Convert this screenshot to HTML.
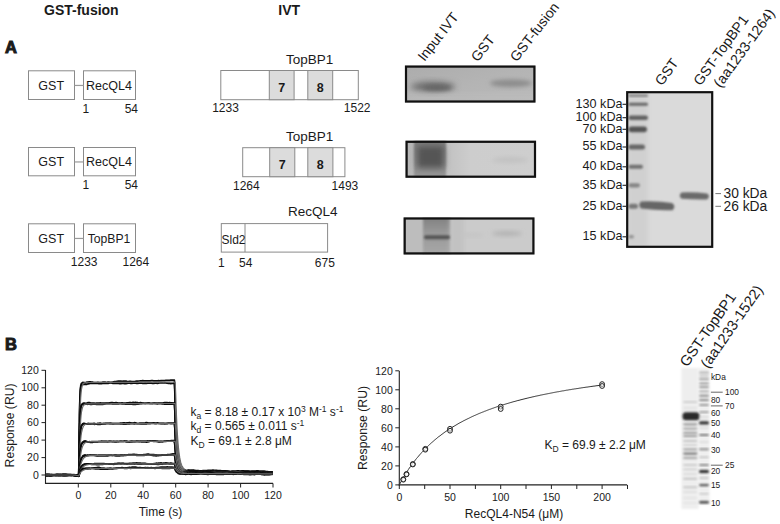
<!DOCTYPE html>
<html><head><meta charset="utf-8"><style>
html,body{margin:0;padding:0;background:#fff;}
svg{display:block;}
text{font-family:"Liberation Sans", sans-serif;fill:#1a1a1a;}
</style></head><body>
<svg width="780" height="524" viewBox="0 0 780 524">
<defs>
<filter id="b1" x="-50%" y="-50%" width="200%" height="200%"><feGaussianBlur stdDeviation="1"/></filter>
<filter id="b2" x="-50%" y="-50%" width="200%" height="200%"><feGaussianBlur stdDeviation="2"/></filter>
<filter id="b3" x="-50%" y="-50%" width="200%" height="200%"><feGaussianBlur stdDeviation="3"/></filter>
<filter id="b4" x="-50%" y="-50%" width="200%" height="200%"><feGaussianBlur stdDeviation="4"/></filter>
<filter id="b05" x="-50%" y="-50%" width="200%" height="200%"><feGaussianBlur stdDeviation="0.6"/></filter>
<filter id="b08" x="-50%" y="-50%" width="200%" height="200%"><feGaussianBlur stdDeviation="0.9"/></filter>
</defs>
<rect width="780" height="524" fill="#fff"/>

<text x="5" y="52.8" font-size="16.5" font-weight="bold" stroke="#1a1a1a" stroke-width="1">A</text>
<text x="44" y="14.8" font-size="14" font-weight="bold">GST-fusion</text>
<text x="278.3" y="14.8" font-size="14" font-weight="bold">IVT</text>
<rect x="28.5" y="70.8" width="46" height="28.700000000000003" fill="#fff" stroke="#8a8a8a" stroke-width="1"/>
<rect x="83.5" y="70.8" width="52" height="28.700000000000003" fill="#fff" stroke="#8a8a8a" stroke-width="1"/>
<line x1="74.5" y1="85.45" x2="83.5" y2="85.45" stroke="#9a9a9a" stroke-width="1.2"/>
<text x="51.2" y="89.9" font-size="12.5" text-anchor="middle">GST</text>
<text x="109" y="89.9" font-size="12.5" text-anchor="middle">RecQL4</text>
<text x="82.5" y="113" font-size="12">1</text>
<text x="124.7" y="113" font-size="12">54</text>
<rect x="28.5" y="147.5" width="46" height="28.30000000000001" fill="#fff" stroke="#8a8a8a" stroke-width="1"/>
<rect x="83.5" y="147.5" width="52" height="28.30000000000001" fill="#fff" stroke="#8a8a8a" stroke-width="1"/>
<line x1="74.5" y1="161.95000000000002" x2="83.5" y2="161.95000000000002" stroke="#9a9a9a" stroke-width="1.2"/>
<text x="51.2" y="166.20000000000002" font-size="12.5" text-anchor="middle">GST</text>
<text x="109" y="166.20000000000002" font-size="12.5" text-anchor="middle">RecQL4</text>
<text x="82.5" y="189.3" font-size="12">1</text>
<text x="124.7" y="189.3" font-size="12">54</text>
<rect x="28.5" y="223.8" width="46" height="28.69999999999999" fill="#fff" stroke="#8a8a8a" stroke-width="1"/>
<rect x="83.5" y="223.8" width="52" height="28.69999999999999" fill="#fff" stroke="#8a8a8a" stroke-width="1"/>
<line x1="74.5" y1="238.45000000000002" x2="83.5" y2="238.45000000000002" stroke="#9a9a9a" stroke-width="1.2"/>
<text x="51.2" y="242.9" font-size="12.5" text-anchor="middle">GST</text>
<text x="109" y="242.9" font-size="12.2" text-anchor="middle">TopBP1</text>
<text x="70.8" y="266" font-size="12">1233</text>
<text x="122.5" y="266" font-size="12">1264</text>
<rect x="220.8" y="70.5" width="137.5" height="29.200000000000003" fill="#fff" stroke="#8a8a8a" stroke-width="1"/>
<rect x="269.3" y="70.5" width="24.80000000000001" height="29.200000000000003" fill="#dcdcdc" stroke="#8a8a8a" stroke-width="1"/>
<text x="281.70000000000005" y="91.60000000000001" font-size="12.5" font-weight="bold" text-anchor="middle">7</text>
<rect x="307.8" y="70.5" width="24.899999999999977" height="29.200000000000003" fill="#dcdcdc" stroke="#8a8a8a" stroke-width="1"/>
<text x="320.25" y="91.60000000000001" font-size="12.5" font-weight="bold" text-anchor="middle">8</text>
<text x="309.6" y="63.5" font-size="13.5" text-anchor="middle">TopBP1</text>
<text x="212.2" y="112.2" font-size="12">1233</text>
<text x="343.8" y="112.2" font-size="12">1522</text>
<rect x="242.7" y="147.7" width="102.19999999999999" height="29.0" fill="#fff" stroke="#8a8a8a" stroke-width="1"/>
<rect x="269.7" y="147.7" width="25.100000000000023" height="29.0" fill="#dcdcdc" stroke="#8a8a8a" stroke-width="1"/>
<text x="282.25" y="168.6" font-size="12.5" font-weight="bold" text-anchor="middle">7</text>
<rect x="307.8" y="147.7" width="25.099999999999966" height="29.0" fill="#dcdcdc" stroke="#8a8a8a" stroke-width="1"/>
<text x="320.35" y="168.6" font-size="12.5" font-weight="bold" text-anchor="middle">8</text>
<text x="309.6" y="140.5" font-size="13.5" text-anchor="middle">TopBP1</text>
<text x="233" y="189.7" font-size="12">1264</text>
<text x="331.6" y="189.7" font-size="12">1493</text>
<rect x="221.3" y="223.6" width="106.3" height="28.5" fill="#fff" stroke="#8a8a8a" stroke-width="1"/>
<line x1="245" y1="223.6" x2="245" y2="252.1" stroke="#8a8a8a" stroke-width="1"/>
<text x="221.5" y="243.8" font-size="12">Sld2</text>
<text x="312.8" y="216.2" font-size="13.5" text-anchor="middle">RecQL4</text>
<text x="218" y="266.5" font-size="12">1</text>
<text x="239" y="266.5" font-size="12">54</text>
<text x="314.8" y="266.5" font-size="12">675</text>
<clipPath id="cg1"><rect x="405" y="65.6" width="130.4" height="36.9"/></clipPath>
<clipPath id="cg2"><rect x="405.6" y="140.8" width="130.4" height="36.9"/></clipPath>
<clipPath id="cg3"><rect x="403.7" y="217.5" width="130.7" height="36.9"/></clipPath>
<linearGradient id="lg1" x1="0" y1="0" x2="1" y2="1"><stop offset="0" stop-color="#acacac"/><stop offset="0.5" stop-color="#b4b4b4"/><stop offset="1" stop-color="#bababa"/></linearGradient>
<g>
<rect x="405" y="65.6" width="130.39999999999998" height="36.900000000000006" fill="url(#lg1)"/>
<g clip-path="url(#cg1)"><ellipse cx="433" cy="86.8" rx="22" ry="5" fill="#6c6c6c" filter="url(#b3)"/><ellipse cx="437" cy="88" rx="14" ry="3" fill="#666" filter="url(#b2)"/><ellipse cx="511" cy="83.2" rx="21" ry="3.8" fill="#8c8c8c" filter="url(#b2)"/><rect x="405" y="92" width="131" height="11" fill="#c0c0c0" opacity="0.35" filter="url(#b2)"/></g>
<rect x="406" y="66.6" width="128.39999999999998" height="34.900000000000006" fill="none" stroke="#111" stroke-width="2.2"/>
</g>
<linearGradient id="lg2" x1="0" y1="0" x2="0" y2="1"><stop offset="0" stop-color="#7a7a7a"/><stop offset="1" stop-color="#9a9a9a"/></linearGradient>
<linearGradient id="lg2b" x1="405" y1="0" x2="536" y2="0" gradientUnits="userSpaceOnUse"><stop offset="0" stop-color="#b6b6b6"/><stop offset="0.36" stop-color="#c4c4c4"/><stop offset="0.5" stop-color="#cdcdcd"/><stop offset="1" stop-color="#cecece"/></linearGradient>
<g>
<rect x="405.6" y="140.8" width="130.39999999999998" height="36.89999999999998" fill="#cdcdcd"/>
<g clip-path="url(#cg2)"><rect x="405" y="140" width="131" height="38" fill="url(#lg2b)"/><rect x="414" y="136" width="32" height="48" fill="url(#lg2)" filter="url(#b1)"/><rect x="417" y="146" width="27" height="22" fill="#555" filter="url(#b3)"/><ellipse cx="510" cy="160" rx="18" ry="3" fill="#c2c2c2" filter="url(#b2)"/></g>
<rect x="406.6" y="141.8" width="128.39999999999998" height="34.89999999999998" fill="none" stroke="#111" stroke-width="2.2"/>
</g>
<linearGradient id="lg3" x1="0" y1="0" x2="0" y2="1"><stop offset="0" stop-color="#7c7c7c"/><stop offset="0.45" stop-color="#9a9a9a"/><stop offset="1" stop-color="#aaaaaa"/></linearGradient>
<g>
<rect x="403.7" y="217.5" width="130.7" height="36.900000000000006" fill="#cbcbcb"/>
<g clip-path="url(#cg3)"><rect x="403" y="215" width="21" height="42" fill="#bdbdbd"/><rect x="423" y="214" width="28" height="44" fill="url(#lg3)" filter="url(#b1)"/><rect x="450" y="214" width="14" height="44" fill="#c2c2c2" filter="url(#b2)"/><rect x="424" y="235.3" width="26" height="4" rx="2" fill="#555" filter="url(#b1)"/><ellipse cx="507" cy="233.6" rx="15" ry="2.5" fill="#b2b2b2" filter="url(#b2)"/><ellipse cx="472" cy="235" rx="12" ry="2" fill="#c4c4c4" filter="url(#b2)"/></g>
<rect x="404.7" y="218.5" width="128.7" height="34.900000000000006" fill="none" stroke="#111" stroke-width="2.2"/>
</g>
<text x="0" y="0" font-size="14" transform="translate(424.4,62.0) rotate(-52)" >Input IVT</text>
<text x="0" y="0" font-size="14" transform="translate(477.8,62.5) rotate(-52)" >GST</text>
<text x="0" y="0" font-size="14" transform="translate(516.8,62.5) rotate(-52)" >GST-fusion</text>
<clipPath id="cgc"><rect x="627" y="92" width="85" height="155"/></clipPath>
<rect x="627" y="92" width="85.5" height="155.5" fill="#dadada"/>
<g clip-path="url(#cgc)">
<rect x="628" y="92" width="20" height="155" fill="#d0d0d0" filter="url(#b2)"/>
<rect x="628.5" y="94.60000000000001" width="19.5" height="2.2" rx="1.1" fill="#7e7e7e" filter="url(#b08)"/>
<rect x="628.5" y="102.8" width="19.5" height="3" rx="1.5" fill="#666" filter="url(#b08)"/>
<rect x="628.5" y="115.45" width="19.5" height="4.5" rx="2.25" fill="#606060" filter="url(#b08)"/>
<rect x="628.5" y="126.4" width="18.5" height="5.8" rx="2.9" fill="#555" filter="url(#b08)"/>
<rect x="628.5" y="144.5" width="16.5" height="5" rx="2.5" fill="#666" filter="url(#b08)"/>
<rect x="628.5" y="164.8" width="14.5" height="4" rx="2.0" fill="#707070" filter="url(#b08)"/>
<rect x="628.5" y="183.20000000000002" width="11.5" height="4.2" rx="2.1" fill="#858585" filter="url(#b08)"/>
<rect x="628.5" y="203.8" width="9.5" height="5" rx="2.5" fill="#777" filter="url(#b08)"/>
<rect x="628.5" y="235.05" width="5.5" height="3.5" rx="1.75" fill="#959595" filter="url(#b08)"/>
<path d="M641,201.5 Q658,200.8 672,203 Q676.5,206 672.5,210.2 Q658,210.8 641,208.5 Q637.5,205 641,201.5 Z" fill="#666" filter="url(#b08)"/>
<path d="M681.5,192.4 Q696,192 707,193.5 Q711,196 707,199.4 Q696,199.8 681.5,198.8 Q678,195.5 681.5,192.4 Z" fill="#6a6a6a" filter="url(#b08)"/>
</g>
<rect x="627.2" y="92.2" width="85" height="154.6" fill="none" stroke="#111" stroke-width="2.2"/>
<text x="622.5" y="107.6" font-size="12.6" text-anchor="end">130 kDa</text>
<line x1="622.5" y1="104.3" x2="626" y2="104.3" stroke="#222" stroke-width="1.1"/>
<text x="622.5" y="121.0" font-size="12.6" text-anchor="end">100 kDa</text>
<line x1="622.5" y1="117.7" x2="626" y2="117.7" stroke="#222" stroke-width="1.1"/>
<text x="622.5" y="132.60000000000002" font-size="12.6" text-anchor="end">70 kDa</text>
<line x1="622.5" y1="129.3" x2="626" y2="129.3" stroke="#222" stroke-width="1.1"/>
<text x="622.5" y="150.3" font-size="12.6" text-anchor="end">55 kDa</text>
<line x1="622.5" y1="147" x2="626" y2="147" stroke="#222" stroke-width="1.1"/>
<text x="622.5" y="170.10000000000002" font-size="12.6" text-anchor="end">40 kDa</text>
<line x1="622.5" y1="166.8" x2="626" y2="166.8" stroke="#222" stroke-width="1.1"/>
<text x="622.5" y="188.60000000000002" font-size="12.6" text-anchor="end">35 kDa</text>
<line x1="622.5" y1="185.3" x2="626" y2="185.3" stroke="#222" stroke-width="1.1"/>
<text x="622.5" y="209.60000000000002" font-size="12.6" text-anchor="end">25 kDa</text>
<line x1="622.5" y1="206.3" x2="626" y2="206.3" stroke="#222" stroke-width="1.1"/>
<text x="622.5" y="240.10000000000002" font-size="12.6" text-anchor="end">15 kDa</text>
<line x1="622.5" y1="236.8" x2="626" y2="236.8" stroke="#222" stroke-width="1.1"/>
<line x1="715.4" y1="193.6" x2="721" y2="193.6" stroke="#777" stroke-width="1"/>
<line x1="715.4" y1="206.3" x2="721" y2="206.3" stroke="#777" stroke-width="1"/>
<text x="723.5" y="198.4" font-size="13.8">30 kDa</text>
<text x="723.5" y="211.1" font-size="13.8">26 kDa</text>
<text x="0" y="0" font-size="14.2" transform="translate(662.0,86.6) rotate(-54)" >GST</text>
<text x="0" y="0" font-size="14.2" transform="translate(700.4,86.6) rotate(-54)" >GST-TopBP1</text>
<text x="0" y="0" font-size="14.2" transform="translate(720.6,88.5) rotate(-54)" >(aa1233-1264)</text>
<text x="5" y="349.6" font-size="16.5" font-weight="bold" stroke="#1a1a1a" stroke-width="1">B</text>
<line x1="45.5" y1="370" x2="45.5" y2="483.9" stroke="#222" stroke-width="1.1"/>
<line x1="45" y1="483.4" x2="273" y2="483.4" stroke="#222" stroke-width="1.1"/>
<line x1="41.5" y1="475.0" x2="45.5" y2="475.0" stroke="#222" stroke-width="1"/>
<text x="38.8" y="478.7" font-size="10.5" text-anchor="end">0</text>
<line x1="41.5" y1="457.6" x2="45.5" y2="457.6" stroke="#222" stroke-width="1"/>
<text x="38.8" y="461.2" font-size="10.5" text-anchor="end">20</text>
<line x1="41.5" y1="440.1" x2="45.5" y2="440.1" stroke="#222" stroke-width="1"/>
<text x="38.8" y="443.8" font-size="10.5" text-anchor="end">40</text>
<line x1="41.5" y1="422.6" x2="45.5" y2="422.6" stroke="#222" stroke-width="1"/>
<text x="38.8" y="426.3" font-size="10.5" text-anchor="end">60</text>
<line x1="41.5" y1="405.2" x2="45.5" y2="405.2" stroke="#222" stroke-width="1"/>
<text x="38.8" y="408.9" font-size="10.5" text-anchor="end">80</text>
<line x1="41.5" y1="387.8" x2="45.5" y2="387.8" stroke="#222" stroke-width="1"/>
<text x="38.8" y="391.4" font-size="10.5" text-anchor="end">100</text>
<line x1="41.5" y1="370.3" x2="45.5" y2="370.3" stroke="#222" stroke-width="1"/>
<text x="38.8" y="374.0" font-size="10.5" text-anchor="end">120</text>
<line x1="78.3" y1="483.4" x2="78.3" y2="487.5" stroke="#222" stroke-width="1"/>
<text x="78.3" y="499.4" font-size="10.5" text-anchor="middle">0</text>
<line x1="110.8" y1="483.4" x2="110.8" y2="487.5" stroke="#222" stroke-width="1"/>
<text x="110.8" y="499.4" font-size="10.5" text-anchor="middle">20</text>
<line x1="143.2" y1="483.4" x2="143.2" y2="487.5" stroke="#222" stroke-width="1"/>
<text x="143.2" y="499.4" font-size="10.5" text-anchor="middle">40</text>
<line x1="175.7" y1="483.4" x2="175.7" y2="487.5" stroke="#222" stroke-width="1"/>
<text x="175.7" y="499.4" font-size="10.5" text-anchor="middle">60</text>
<line x1="208.1" y1="483.4" x2="208.1" y2="487.5" stroke="#222" stroke-width="1"/>
<text x="208.1" y="499.4" font-size="10.5" text-anchor="middle">80</text>
<line x1="240.6" y1="483.4" x2="240.6" y2="487.5" stroke="#222" stroke-width="1"/>
<text x="240.6" y="499.4" font-size="10.5" text-anchor="middle">100</text>
<line x1="273.0" y1="483.4" x2="273.0" y2="487.5" stroke="#222" stroke-width="1"/>
<text x="273.0" y="499.4" font-size="10.5" text-anchor="middle">120</text>
<text x="160.5" y="516.3" font-size="12" text-anchor="middle">Time (s)</text>
<text x="0" y="0" font-size="12.2" text-anchor="middle" transform="translate(13.6,425.4) rotate(-90)">Response (RU)</text>
<polyline points="45.8,475.0 47.1,475.0 48.3,474.9 49.5,474.8 50.7,474.8 51.9,474.6 53.2,474.8 54.4,474.8 55.6,474.8 56.8,474.9 58.0,475.1 59.2,475.3 60.5,475.5 61.7,475.3 62.9,475.4 64.1,475.5 65.3,475.5 66.5,475.3 67.8,475.1 69.0,475.0 70.2,475.0 71.4,474.8 72.6,474.8 73.8,474.7 75.1,474.9 76.3,475.2 77.5,475.4 77.9,475.4 78.3,475.6 78.7,475.6 79.1,451.7 79.5,415.3 79.9,398.1 80.3,389.8 80.7,386.0 81.1,384.2 81.5,383.3 82.0,383.0 82.4,382.7 82.8,382.4 83.2,382.7 83.6,382.6 84.0,382.7 84.4,382.8 84.8,382.5 85.2,382.5 85.6,382.9 86.0,382.5 86.4,382.4 86.8,382.3 87.2,382.0 87.6,382.0 88.0,382.0 89.3,381.9 90.5,381.9 91.7,382.1 92.9,382.2 94.1,382.5 95.3,382.6 96.6,382.6 97.8,382.3 99.0,382.6 100.2,382.7 101.4,382.5 102.6,382.2 103.9,382.0 105.1,382.1 106.3,382.5 107.5,382.2 108.7,382.1 109.9,382.3 111.2,382.3 112.4,382.2 113.6,381.9 114.8,381.6 116.0,381.6 117.2,381.3 118.5,381.0 119.7,381.1 120.9,381.1 122.1,381.3 123.3,381.1 124.5,381.0 125.8,381.1 127.0,381.4 128.2,381.5 129.4,381.4 130.6,381.4 131.8,381.6 133.1,381.6 134.3,381.7 135.5,381.3 136.7,381.1 137.9,381.2 139.1,381.0 140.4,380.8 141.6,380.9 142.8,380.6 144.0,380.8 145.2,380.9 146.4,380.8 147.7,380.8 148.9,380.9 150.1,380.8 151.3,380.7 152.5,380.7 153.7,380.8 155.0,380.9 156.2,380.8 157.4,380.8 158.6,380.7 159.8,380.9 161.0,380.7 162.3,380.7 163.5,380.7 164.7,380.6 165.9,380.4 167.1,380.4 168.3,380.3 169.6,380.4 170.8,380.2 172.0,380.0 173.2,380.1 173.6,380.1 174.0,380.2 174.4,380.2 174.8,388.7 175.2,406.6 175.7,420.5 176.1,431.3 176.5,439.9 176.9,446.6 177.3,451.8 177.7,455.8 178.1,459.0 178.5,461.6 178.9,463.4 179.3,465.1 179.7,466.3 180.1,467.2 180.5,468.0 180.9,468.4 181.3,469.0 181.7,469.4 182.1,469.4 182.5,469.5 183.0,469.4 183.4,469.6 183.8,469.8 184.2,469.8 184.6,470.0 185.0,470.0 185.4,470.3 185.8,470.7 186.2,470.7 186.6,470.7 187.0,470.8 187.4,470.6 187.8,470.6 188.2,470.1 188.6,470.2 189.8,470.4 191.1,470.3 192.3,470.3 193.5,470.3 194.7,470.7 195.9,470.8 197.1,470.8 198.4,470.7 199.6,470.8 200.8,470.9 202.0,470.9 203.2,470.6 204.4,470.7 205.7,470.5 206.9,470.6 208.1,470.4 209.3,470.3 210.5,470.3 211.8,470.4 213.0,470.1 214.2,470.3 215.4,470.3 216.6,470.3 217.8,470.5 219.1,470.5 220.3,470.5 221.5,470.8 222.7,470.8 223.9,471.1 225.1,471.0 226.4,471.2 227.6,471.4 228.8,471.6 230.0,471.5 231.2,471.3 232.4,471.0 233.7,471.2 234.9,471.1 236.1,471.1 237.3,470.9 238.5,470.9 239.7,471.1 241.0,471.1 242.2,470.9 243.4,470.9 244.6,471.0 245.8,471.0 247.0,471.2 248.3,471.2 249.5,471.3 250.7,471.4 251.9,471.2 253.1,471.1 254.3,471.2 255.6,471.0 256.8,470.8 258.0,470.9 259.2,471.0 260.4,471.1 261.6,471.0 262.9,471.1 264.1,471.2 265.3,471.4 266.5,471.6 267.7,471.6 268.9,472.0 270.2,471.9 271.4,471.9 272.6,472.1" fill="none" stroke="#0c0c0c" stroke-width="1.7" stroke-linejoin="round"/>
<polyline points="45.8,474.5 47.1,474.3 48.3,474.5 49.5,474.4 50.7,474.7 51.9,474.8 53.2,475.2 54.4,475.2 55.6,475.6 56.8,475.5 58.0,475.6 59.2,475.4 60.5,475.3 61.7,475.1 62.9,475.0 64.1,474.9 65.3,474.8 66.5,474.7 67.8,474.7 69.0,474.8 70.2,474.8 71.4,474.9 72.6,475.1 73.8,475.3 75.1,475.5 76.3,475.5 77.5,475.5 77.9,475.4 78.3,475.6 78.7,475.6 79.1,451.9 79.5,416.2 79.9,399.2 80.3,391.2 80.7,387.6 81.1,385.9 81.5,385.1 82.0,384.6 82.4,384.4 82.8,384.4 83.2,384.6 83.6,384.4 84.0,384.4 84.4,384.4 84.8,384.3 85.2,384.2 85.6,384.5 86.0,384.3 86.4,384.3 86.8,384.3 87.2,384.0 87.6,384.0 88.0,383.9 89.3,383.6 90.5,383.3 91.7,383.3 92.9,383.2 94.1,383.5 95.3,383.5 96.6,383.4 97.8,383.4 99.0,383.6 100.2,383.5 101.4,383.7 102.6,383.4 103.9,383.2 105.1,383.5 106.3,383.4 107.5,383.1 108.7,383.3 109.9,383.0 111.2,383.0 112.4,383.3 113.6,383.2 114.8,383.3 116.0,383.4 117.2,383.4 118.5,383.5 119.7,383.7 120.9,383.6 122.1,383.5 123.3,383.5 124.5,383.7 125.8,383.7 127.0,383.4 128.2,383.2 129.4,383.0 130.6,383.4 131.8,383.4 133.1,383.2 134.3,382.9 135.5,383.1 136.7,383.3 137.9,383.3 139.1,383.2 140.4,383.1 141.6,383.2 142.8,383.4 144.0,383.3 145.2,383.1 146.4,383.3 147.7,383.1 148.9,383.2 150.1,383.2 151.3,383.2 152.5,383.4 153.7,383.4 155.0,383.1 156.2,383.1 157.4,383.3 158.6,383.1 159.8,383.0 161.0,382.7 162.3,382.8 163.5,383.0 164.7,382.8 165.9,382.9 167.1,383.2 168.3,383.3 169.6,383.4 170.8,383.6 172.0,383.5 173.2,383.5 173.6,383.2 174.0,383.0 174.4,383.0 174.8,391.5 175.2,408.9 175.7,422.7 176.1,433.5 176.5,441.9 176.9,448.5 177.3,453.6 177.7,457.5 178.1,460.7 178.5,463.0 178.9,464.8 179.3,466.3 179.7,467.4 180.1,468.2 180.5,468.8 180.9,469.4 181.3,469.8 181.7,470.2 182.1,470.5 182.5,470.8 183.0,471.2 183.4,471.2 183.8,471.4 184.2,471.9 184.6,471.9 185.0,471.6 185.4,471.7 185.8,471.8 186.2,472.0 186.6,471.8 187.0,471.5 187.4,471.3 187.8,471.4 188.2,471.2 188.6,471.1 189.8,471.0 191.1,470.9 192.3,470.8 193.5,470.7 194.7,471.0 195.9,471.2 197.1,471.1 198.4,471.2 199.6,471.3 200.8,471.3 202.0,471.4 203.2,471.3 204.4,471.0 205.7,470.9 206.9,470.9 208.1,471.1 209.3,470.9 210.5,471.0 211.8,470.9 213.0,471.1 214.2,471.3 215.4,471.4 216.6,471.4 217.8,471.6 219.1,471.5 220.3,471.5 221.5,471.6 222.7,471.6 223.9,471.4 225.1,471.4 226.4,471.4 227.6,471.6 228.8,471.6 230.0,471.8 231.2,472.0 232.4,472.0 233.7,472.2 234.9,472.3 236.1,472.5 237.3,472.7 238.5,472.5 239.7,472.4 241.0,472.4 242.2,472.3 243.4,472.4 244.6,472.0 245.8,471.9 247.0,471.8 248.3,472.0 249.5,472.0 250.7,472.2 251.9,472.0 253.1,472.1 254.3,472.4 255.6,472.5 256.8,472.4 258.0,472.6 259.2,472.6 260.4,472.8 261.6,473.0 262.9,473.0 264.1,473.0 265.3,473.0 266.5,472.8 267.7,472.5 268.9,472.2 270.2,472.0 271.4,472.0 272.6,472.1" fill="none" stroke="#0c0c0c" stroke-width="1.7" stroke-linejoin="round"/>
<polyline points="45.8,475.0 47.1,475.0 48.3,475.0 49.5,475.0 50.7,475.0 51.9,475.0 53.2,475.0 54.4,475.0 55.6,475.0 56.8,475.0 58.0,475.0 59.2,475.0 60.5,475.0 61.7,475.0 62.9,475.0 64.1,475.0 65.3,475.0 66.5,475.0 67.8,475.0 69.0,475.0 70.2,475.0 71.4,475.0 72.6,475.0 73.8,475.1 75.1,475.2 76.3,475.4 77.5,475.5 77.9,475.6 78.3,475.6 78.7,475.7 79.1,461.4 79.5,434.7 79.9,417.0 80.3,405.3 80.7,397.6 81.1,392.5 81.5,389.1 82.0,386.9 82.4,385.4 82.8,384.4 83.2,383.8 83.6,383.3 84.0,383.0 84.4,382.9 84.8,382.7 85.2,382.6 85.6,382.6 86.0,382.6 86.4,382.5 86.8,382.5 87.2,382.5 87.6,382.5 88.0,382.5 89.3,382.5 90.5,382.5 91.7,382.5 92.9,382.5 94.1,382.4 95.3,382.4 96.6,382.4 97.8,382.4 99.0,382.4 100.2,382.4 101.4,382.4 102.6,382.4 103.9,382.4 105.1,382.4 106.3,382.4 107.5,382.4 108.7,382.4 109.9,382.4 111.2,382.4 112.4,382.4 113.6,382.4 114.8,382.4 116.0,382.3 117.2,382.3 118.5,382.3 119.7,382.3 120.9,382.3 122.1,382.3 123.3,382.3 124.5,382.3 125.8,382.3 127.0,382.3 128.2,382.3 129.4,382.3 130.6,382.3 131.8,382.3 133.1,382.3 134.3,382.3 135.5,382.3 136.7,382.3 137.9,382.3 139.1,382.2 140.4,382.2 141.6,382.2 142.8,382.2 144.0,382.2 145.2,382.2 146.4,382.2 147.7,382.2 148.9,382.2 150.1,382.2 151.3,382.2 152.5,382.2 153.7,382.2 155.0,382.2 156.2,382.2 157.4,382.2 158.6,382.2 159.8,382.2 161.0,382.1 162.3,382.1 163.5,382.1 164.7,382.1 165.9,382.1 167.1,382.1 168.3,382.1 169.6,382.1 170.8,382.1 172.0,382.1 173.2,382.1 173.6,382.1 174.0,382.1 174.4,382.1 174.8,382.1 175.2,382.1 175.7,393.7 176.1,406.0 176.5,416.4 176.9,425.2 177.3,432.5 177.7,438.6 178.1,443.8 178.5,448.1 178.9,451.8 179.3,454.8 179.7,457.4 180.1,459.5 180.5,461.4 180.9,462.9 181.3,464.2 181.7,465.2 182.1,466.1 182.5,466.9 183.0,467.5 183.4,468.1 183.8,468.5 184.2,468.9 184.6,469.2 185.0,469.5 185.4,469.7 185.8,469.9 186.2,470.1 186.6,470.2 187.0,470.3 187.4,470.4 187.8,470.5 188.2,470.6 188.6,470.6 189.8,470.7 191.1,470.8 192.3,470.9 193.5,470.9 194.7,471.0 195.9,471.0 197.1,471.0 198.4,471.0 199.6,471.0 200.8,471.1 202.0,471.1 203.2,471.1 204.4,471.1 205.7,471.1 206.9,471.1 208.1,471.2 209.3,471.2 210.5,471.2 211.8,471.2 213.0,471.2 214.2,471.2 215.4,471.3 216.6,471.3 217.8,471.3 219.1,471.3 220.3,471.3 221.5,471.3 222.7,471.3 223.9,471.4 225.1,471.4 226.4,471.4 227.6,471.4 228.8,471.4 230.0,471.4 231.2,471.5 232.4,471.5 233.7,471.5 234.9,471.5 236.1,471.5 237.3,471.5 238.5,471.6 239.7,471.6 241.0,471.6 242.2,471.6 243.4,471.6 244.6,471.6 245.8,471.7 247.0,471.7 248.3,471.7 249.5,471.7 250.7,471.7 251.9,471.7 253.1,471.7 254.3,471.8 255.6,471.8 256.8,471.8 258.0,471.8 259.2,471.8 260.4,471.8 261.6,471.9 262.9,471.9 264.1,471.9 265.3,471.9 266.5,471.9 267.7,471.9 268.9,472.0 270.2,472.0 271.4,472.0 272.6,472.0" fill="none" stroke="#6a6a6a" stroke-width="1.2" stroke-linejoin="round"/>
<polyline points="45.8,475.5 47.1,475.4 48.3,475.3 49.5,475.3 50.7,475.3 51.9,475.5 53.2,475.2 54.4,475.0 55.6,475.0 56.8,475.1 58.0,475.1 59.2,475.4 60.5,475.4 61.7,475.5 62.9,475.7 64.1,475.7 65.3,475.6 66.5,475.7 67.8,475.4 69.0,475.3 70.2,475.3 71.4,475.1 72.6,475.1 73.8,475.3 75.1,475.3 76.3,475.4 77.5,475.4 77.9,475.5 78.3,475.7 78.7,475.9 79.1,459.9 79.5,433.8 79.9,419.9 80.3,412.5 80.7,408.6 81.1,406.4 81.5,405.0 82.0,404.4 82.4,403.7 82.8,403.4 83.2,403.2 83.6,403.1 84.0,402.9 84.4,403.3 84.8,403.3 85.2,403.5 85.6,403.4 86.0,403.3 86.4,403.2 86.8,403.2 87.2,402.9 87.6,402.7 88.0,402.6 89.3,402.7 90.5,402.9 91.7,403.0 92.9,403.1 94.1,403.2 95.3,403.3 96.6,403.1 97.8,403.1 99.0,403.2 100.2,402.9 101.4,403.0 102.6,403.0 103.9,403.0 105.1,403.2 106.3,403.0 107.5,403.1 108.7,403.0 109.9,402.8 111.2,402.7 112.4,402.7 113.6,402.8 114.8,402.8 116.0,402.7 117.2,402.9 118.5,403.1 119.7,403.2 120.9,403.1 122.1,402.9 123.3,403.0 124.5,403.0 125.8,403.0 127.0,402.9 128.2,402.8 129.4,402.7 130.6,402.7 131.8,402.8 133.1,402.4 134.3,402.5 135.5,402.4 136.7,402.5 137.9,402.7 139.1,403.0 140.4,402.7 141.6,402.8 142.8,403.0 144.0,403.2 145.2,403.3 146.4,403.2 147.7,403.0 148.9,403.2 150.1,403.4 151.3,403.3 152.5,403.2 153.7,403.0 155.0,403.3 156.2,403.2 157.4,403.2 158.6,403.1 159.8,403.1 161.0,403.1 162.3,403.1 163.5,402.9 164.7,402.7 165.9,402.7 167.1,402.7 168.3,402.8 169.6,402.7 170.8,402.8 172.0,402.8 173.2,403.0 173.6,403.0 174.0,402.9 174.4,402.6 174.8,409.1 175.2,422.5 175.7,432.8 176.1,441.3 176.5,447.8 176.9,452.8 177.3,457.0 177.7,459.9 178.1,462.3 178.5,464.4 178.9,465.6 179.3,466.6 179.7,467.7 180.1,468.5 180.5,469.1 180.9,469.6 181.3,470.1 181.7,470.2 182.1,470.6 182.5,470.5 183.0,470.4 183.4,470.5 183.8,470.4 184.2,470.3 184.6,470.6 185.0,470.6 185.4,470.6 185.8,470.8 186.2,470.9 186.6,470.9 187.0,471.0 187.4,470.7 187.8,470.5 188.2,470.7 188.6,470.6 189.8,470.6 191.1,470.6 192.3,470.4 193.5,470.4 194.7,470.7 195.9,470.7 197.1,470.7 198.4,470.9 199.6,471.0 200.8,470.9 202.0,471.2 203.2,471.1 204.4,471.1 205.7,471.1 206.9,470.8 208.1,471.2 209.3,471.3 210.5,471.0 211.8,471.1 213.0,471.3 214.2,471.5 215.4,471.7 216.6,471.5 217.8,471.3 219.1,471.4 220.3,471.4 221.5,471.0 222.7,470.9 223.9,470.9 225.1,470.9 226.4,471.0 227.6,471.2 228.8,471.4 230.0,471.6 231.2,471.5 232.4,471.6 233.7,471.7 234.9,471.9 236.1,471.7 237.3,471.6 238.5,471.7 239.7,471.8 241.0,471.5 242.2,471.3 243.4,471.3 244.6,471.3 245.8,471.4 247.0,471.4 248.3,471.3 249.5,471.3 250.7,471.5 251.9,471.5 253.1,471.5 254.3,471.6 255.6,471.7 256.8,471.8 258.0,472.0 259.2,472.1 260.4,472.3 261.6,472.4 262.9,472.2 264.1,472.3 265.3,472.1 266.5,472.2 267.7,472.1 268.9,471.9 270.2,472.1 271.4,472.2 272.6,472.2" fill="none" stroke="#0c0c0c" stroke-width="1.7" stroke-linejoin="round"/>
<polyline points="45.8,474.8 47.1,474.6 48.3,474.7 49.5,474.7 50.7,474.6 51.9,474.6 53.2,474.9 54.4,475.0 55.6,475.2 56.8,475.1 58.0,475.0 59.2,474.7 60.5,474.8 61.7,474.7 62.9,474.3 64.1,474.3 65.3,474.2 66.5,474.5 67.8,474.8 69.0,475.2 70.2,475.1 71.4,475.3 72.6,475.2 73.8,475.2 75.1,475.2 76.3,475.4 77.5,475.2 77.9,475.4 78.3,475.5 78.7,475.6 79.1,460.1 79.5,434.2 79.9,420.4 80.3,412.8 80.7,408.7 81.1,406.5 81.5,405.4 82.0,404.8 82.4,404.6 82.8,404.3 83.2,404.2 83.6,404.3 84.0,404.2 84.4,404.2 84.8,404.3 85.2,404.0 85.6,404.1 86.0,404.1 86.4,403.9 86.8,404.1 87.2,404.3 87.6,404.0 88.0,404.2 89.3,404.2 90.5,404.3 91.7,404.3 92.9,404.2 94.1,404.1 95.3,404.2 96.6,404.4 97.8,404.4 99.0,404.4 100.2,404.2 101.4,404.3 102.6,404.3 103.9,404.1 105.1,403.9 106.3,403.7 107.5,403.6 108.7,403.7 109.9,403.6 111.2,403.6 112.4,403.8 113.6,403.7 114.8,403.8 116.0,403.8 117.2,403.6 118.5,403.8 119.7,403.7 120.9,403.7 122.1,403.8 123.3,403.8 124.5,403.8 125.8,404.1 127.0,404.0 128.2,404.1 129.4,404.0 130.6,404.1 131.8,404.2 133.1,404.3 134.3,404.3 135.5,404.3 136.7,404.1 137.9,404.2 139.1,404.0 140.4,403.7 141.6,403.6 142.8,403.5 144.0,403.5 145.2,403.4 146.4,403.5 147.7,403.3 148.9,403.2 150.1,403.4 151.3,403.5 152.5,403.6 153.7,403.5 155.0,403.2 156.2,403.6 157.4,403.9 158.6,403.7 159.8,403.5 161.0,403.7 162.3,403.9 163.5,404.0 164.7,404.2 165.9,404.1 167.1,404.1 168.3,404.2 169.6,404.1 170.8,404.1 172.0,404.1 173.2,403.9 173.6,404.0 174.0,403.9 174.4,403.9 174.8,410.1 175.2,423.5 175.7,434.1 176.1,442.4 176.5,449.1 176.9,453.9 177.3,457.9 177.7,461.1 178.1,463.6 178.5,465.5 178.9,466.9 179.3,467.7 179.7,469.0 180.1,469.6 180.5,470.0 180.9,470.7 181.3,470.7 181.7,471.0 182.1,471.2 182.5,471.1 183.0,471.1 183.4,471.3 183.8,471.1 184.2,471.3 184.6,471.3 185.0,471.5 185.4,471.5 185.8,471.5 186.2,471.5 186.6,471.6 187.0,471.7 187.4,471.9 187.8,471.8 188.2,471.7 188.6,471.8 189.8,471.8 191.1,471.8 192.3,471.6 193.5,471.5 194.7,471.6 195.9,471.7 197.1,471.7 198.4,471.8 199.6,471.9 200.8,472.1 202.0,472.0 203.2,471.9 204.4,472.1 205.7,472.1 206.9,472.1 208.1,472.1 209.3,472.0 210.5,472.1 211.8,472.2 213.0,472.0 214.2,471.9 215.4,472.0 216.6,471.9 217.8,472.1 219.1,471.8 220.3,471.8 221.5,471.8 222.7,472.0 223.9,471.9 225.1,471.7 226.4,471.9 227.6,472.2 228.8,472.1 230.0,472.3 231.2,472.3 232.4,472.1 233.7,472.4 234.9,472.3 236.1,472.2 237.3,472.4 238.5,472.3 239.7,472.3 241.0,472.6 242.2,472.4 243.4,472.2 244.6,472.5 245.8,472.5 247.0,472.5 248.3,472.4 249.5,472.5 250.7,472.6 251.9,472.5 253.1,472.3 254.3,472.4 255.6,472.6 256.8,472.6 258.0,472.4 259.2,472.4 260.4,472.8 261.6,472.8 262.9,472.5 264.1,472.2 265.3,472.4 266.5,472.6 267.7,472.7 268.9,472.3 270.2,472.4 271.4,472.3 272.6,472.7" fill="none" stroke="#0c0c0c" stroke-width="1.7" stroke-linejoin="round"/>
<polyline points="45.8,475.0 47.1,475.0 48.3,475.0 49.5,475.0 50.7,475.0 51.9,475.0 53.2,475.0 54.4,475.0 55.6,475.0 56.8,475.0 58.0,475.0 59.2,475.0 60.5,475.0 61.7,475.0 62.9,475.0 64.1,475.0 65.3,475.0 66.5,475.0 67.8,475.0 69.0,475.0 70.2,475.0 71.4,475.0 72.6,475.0 73.8,475.1 75.1,475.2 76.3,475.4 77.5,475.5 77.9,475.6 78.3,475.6 78.7,475.7 79.1,466.4 79.5,448.1 79.9,435.2 80.3,426.0 80.7,419.6 81.1,415.0 81.5,411.8 82.0,409.5 82.4,407.8 82.8,406.7 83.2,405.9 83.6,405.3 84.0,404.9 84.4,404.6 84.8,404.4 85.2,404.2 85.6,404.1 86.0,404.0 86.4,404.0 86.8,403.9 87.2,403.9 87.6,403.9 88.0,403.9 89.3,403.9 90.5,403.8 91.7,403.8 92.9,403.8 94.1,403.8 95.3,403.8 96.6,403.8 97.8,403.8 99.0,403.8 100.2,403.8 101.4,403.8 102.6,403.8 103.9,403.8 105.1,403.8 106.3,403.8 107.5,403.8 108.7,403.8 109.9,403.8 111.2,403.7 112.4,403.7 113.6,403.7 114.8,403.7 116.0,403.7 117.2,403.7 118.5,403.7 119.7,403.7 120.9,403.7 122.1,403.7 123.3,403.7 124.5,403.7 125.8,403.7 127.0,403.7 128.2,403.7 129.4,403.7 130.6,403.7 131.8,403.7 133.1,403.6 134.3,403.6 135.5,403.6 136.7,403.6 137.9,403.6 139.1,403.6 140.4,403.6 141.6,403.6 142.8,403.6 144.0,403.6 145.2,403.6 146.4,403.6 147.7,403.6 148.9,403.6 150.1,403.6 151.3,403.6 152.5,403.6 153.7,403.6 155.0,403.6 156.2,403.5 157.4,403.5 158.6,403.5 159.8,403.5 161.0,403.5 162.3,403.5 163.5,403.5 164.7,403.5 165.9,403.5 167.1,403.5 168.3,403.5 169.6,403.5 170.8,403.5 172.0,403.5 173.2,403.5 173.6,403.5 174.0,403.5 174.4,403.5 174.8,403.5 175.2,403.5 175.7,412.3 176.1,421.8 176.5,429.7 176.9,436.4 177.3,442.0 177.7,446.7 178.1,450.6 178.5,453.9 178.9,456.7 179.3,459.0 179.7,461.0 180.1,462.6 180.5,464.0 180.9,465.2 181.3,466.2 181.7,467.0 182.1,467.7 182.5,468.2 183.0,468.7 183.4,469.1 183.8,469.5 184.2,469.8 184.6,470.0 185.0,470.2 185.4,470.4 185.8,470.5 186.2,470.7 186.6,470.8 187.0,470.9 187.4,470.9 187.8,471.0 188.2,471.1 188.6,471.1 189.8,471.2 191.1,471.3 192.3,471.3 193.5,471.3 194.7,471.4 195.9,471.4 197.1,471.4 198.4,471.4 199.6,471.4 200.8,471.5 202.0,471.5 203.2,471.5 204.4,471.5 205.7,471.5 206.9,471.5 208.1,471.5 209.3,471.6 210.5,471.6 211.8,471.6 213.0,471.6 214.2,471.6 215.4,471.6 216.6,471.6 217.8,471.7 219.1,471.7 220.3,471.7 221.5,471.7 222.7,471.7 223.9,471.7 225.1,471.8 226.4,471.8 227.6,471.8 228.8,471.8 230.0,471.8 231.2,471.8 232.4,471.8 233.7,471.9 234.9,471.9 236.1,471.9 237.3,471.9 238.5,471.9 239.7,471.9 241.0,471.9 242.2,472.0 243.4,472.0 244.6,472.0 245.8,472.0 247.0,472.0 248.3,472.0 249.5,472.0 250.7,472.1 251.9,472.1 253.1,472.1 254.3,472.1 255.6,472.1 256.8,472.1 258.0,472.1 259.2,472.2 260.4,472.2 261.6,472.2 262.9,472.2 264.1,472.2 265.3,472.2 266.5,472.2 267.7,472.3 268.9,472.3 270.2,472.3 271.4,472.3 272.6,472.3" fill="none" stroke="#6a6a6a" stroke-width="1.2" stroke-linejoin="round"/>
<polyline points="45.8,475.1 47.1,475.2 48.3,475.1 49.5,475.0 50.7,475.1 51.9,474.9 53.2,475.0 54.4,474.9 55.6,474.9 56.8,475.2 58.0,475.1 59.2,475.0 60.5,475.0 61.7,475.1 62.9,475.1 64.1,475.1 65.3,475.0 66.5,475.2 67.8,475.3 69.0,475.4 70.2,475.5 71.4,475.4 72.6,475.5 73.8,475.4 75.1,475.6 76.3,475.6 77.5,475.6 77.9,475.5 78.3,475.7 78.7,475.6 79.1,466.1 79.5,449.4 79.9,439.3 80.3,433.3 80.7,429.6 81.1,427.2 81.5,425.8 82.0,424.9 82.4,424.1 82.8,423.7 83.2,423.5 83.6,423.3 84.0,423.3 84.4,423.4 84.8,423.5 85.2,423.8 85.6,423.8 86.0,423.8 86.4,423.9 86.8,423.9 87.2,423.8 87.6,423.8 88.0,423.3 89.3,423.6 90.5,423.6 91.7,423.7 92.9,423.6 94.1,423.3 95.3,423.6 96.6,423.8 97.8,423.4 99.0,423.4 100.2,423.1 101.4,423.5 102.6,423.7 103.9,423.4 105.1,423.4 106.3,423.5 107.5,423.4 108.7,423.5 109.9,423.2 111.2,423.3 112.4,423.6 113.6,423.6 114.8,423.5 116.0,423.5 117.2,423.5 118.5,423.5 119.7,423.4 120.9,423.1 122.1,423.0 123.3,422.8 124.5,422.9 125.8,423.1 127.0,422.9 128.2,422.8 129.4,422.7 130.6,422.8 131.8,423.1 133.1,423.0 134.3,422.7 135.5,422.9 136.7,423.3 137.9,423.5 139.1,423.3 140.4,423.0 141.6,423.0 142.8,423.1 144.0,423.0 145.2,422.9 146.4,422.6 147.7,422.9 148.9,423.2 150.1,423.0 151.3,423.0 152.5,423.0 153.7,422.9 155.0,423.0 156.2,423.0 157.4,422.9 158.6,423.3 159.8,423.5 161.0,423.6 162.3,423.7 163.5,423.6 164.7,423.7 165.9,423.5 167.1,423.3 168.3,423.1 169.6,423.0 170.8,423.2 172.0,423.2 173.2,423.1 173.6,423.1 174.0,423.2 174.4,423.1 174.8,427.5 175.2,436.9 175.7,444.3 176.1,450.1 176.5,454.7 176.9,458.1 177.3,460.9 177.7,463.2 178.1,465.0 178.5,466.5 178.9,467.4 179.3,468.0 179.7,468.8 180.1,469.1 180.5,469.3 180.9,469.5 181.3,469.5 181.7,470.0 182.1,470.4 182.5,470.4 183.0,470.4 183.4,470.6 183.8,470.9 184.2,471.1 184.6,471.1 185.0,471.1 185.4,471.0 185.8,471.3 186.2,471.3 186.6,471.0 187.0,470.8 187.4,470.7 187.8,470.7 188.2,470.8 188.6,470.6 189.8,470.5 191.1,470.6 192.3,470.8 193.5,470.8 194.7,470.7 195.9,470.8 197.1,470.8 198.4,471.1 199.6,471.2 200.8,471.2 202.0,471.4 203.2,471.4 204.4,471.4 205.7,471.3 206.9,471.1 208.1,471.0 209.3,471.3 210.5,471.0 211.8,471.0 213.0,471.1 214.2,471.4 215.4,471.5 216.6,471.7 217.8,471.5 219.1,471.7 220.3,471.7 221.5,471.7 222.7,471.7 223.9,471.6 225.1,471.5 226.4,471.8 227.6,471.8 228.8,471.9 230.0,472.1 231.2,472.1 232.4,472.2 233.7,472.3 234.9,472.1 236.1,471.9 237.3,471.8 238.5,471.7 239.7,471.7 241.0,471.7 242.2,471.6 243.4,471.5 244.6,471.7 245.8,472.1 247.0,472.1 248.3,472.2 249.5,472.1 250.7,472.2 251.9,472.3 253.1,472.1 254.3,471.9 255.6,472.1 256.8,472.1 258.0,472.5 259.2,472.7 260.4,472.6 261.6,473.0 262.9,473.1 264.1,473.1 265.3,472.9 266.5,472.8 267.7,472.6 268.9,472.6 270.2,472.4 271.4,472.0 272.6,471.7" fill="none" stroke="#0c0c0c" stroke-width="1.7" stroke-linejoin="round"/>
<polyline points="45.8,474.5 47.1,474.6 48.3,474.6 49.5,475.0 50.7,475.2 51.9,475.4 53.2,475.3 54.4,475.2 55.6,475.4 56.8,475.2 58.0,474.9 59.2,475.1 60.5,474.7 61.7,474.7 62.9,474.6 64.1,474.6 65.3,474.7 66.5,474.7 67.8,474.5 69.0,474.7 70.2,474.6 71.4,475.0 72.6,475.0 73.8,475.3 75.1,475.6 76.3,475.8 77.5,476.0 77.9,476.1 78.3,476.0 78.7,476.0 79.1,466.5 79.5,449.6 79.9,439.4 80.3,433.4 80.7,429.7 81.1,427.3 81.5,426.0 82.0,425.0 82.4,424.5 82.8,424.3 83.2,424.0 83.6,424.0 84.0,424.0 84.4,423.9 84.8,424.1 85.2,424.1 85.6,424.2 86.0,424.1 86.4,424.1 86.8,424.2 87.2,424.2 87.6,424.1 88.0,424.1 89.3,424.0 90.5,424.1 91.7,424.0 92.9,424.0 94.1,424.3 95.3,424.1 96.6,424.1 97.8,424.3 99.0,424.3 100.2,424.3 101.4,424.2 102.6,424.0 103.9,423.9 105.1,423.9 106.3,423.4 107.5,423.5 108.7,423.4 109.9,423.6 111.2,423.6 112.4,423.6 113.6,423.5 114.8,423.6 116.0,423.5 117.2,423.6 118.5,423.7 119.7,423.7 120.9,423.9 122.1,424.0 123.3,424.1 124.5,424.2 125.8,424.2 127.0,423.9 128.2,423.9 129.4,423.8 130.6,423.6 131.8,423.5 133.1,423.6 134.3,423.8 135.5,423.6 136.7,423.6 137.9,423.5 139.1,423.7 140.4,423.9 141.6,423.8 142.8,423.8 144.0,424.0 145.2,423.9 146.4,423.9 147.7,423.5 148.9,423.6 150.1,423.7 151.3,423.5 152.5,423.3 153.7,423.4 155.0,423.6 156.2,423.7 157.4,423.5 158.6,423.3 159.8,423.4 161.0,423.4 162.3,423.4 163.5,423.3 164.7,423.6 165.9,423.6 167.1,423.6 168.3,423.5 169.6,423.5 170.8,423.6 172.0,423.6 173.2,423.4 173.6,423.3 174.0,423.2 174.4,423.2 174.8,427.7 175.2,437.2 175.7,444.7 176.1,450.5 176.5,455.0 176.9,458.7 177.3,461.5 177.7,464.0 178.1,465.9 178.5,467.1 178.9,468.1 179.3,469.1 179.7,469.7 180.1,470.2 180.5,470.6 180.9,470.8 181.3,471.3 181.7,471.6 182.1,471.9 182.5,472.1 183.0,472.1 183.4,471.9 183.8,472.2 184.2,472.1 184.6,471.9 185.0,471.9 185.4,472.0 185.8,472.2 186.2,472.4 186.6,472.3 187.0,472.4 187.4,472.8 187.8,472.7 188.2,472.7 188.6,472.5 189.8,472.6 191.1,472.7 192.3,472.8 193.5,472.6 194.7,472.5 195.9,472.3 197.1,472.3 198.4,472.1 199.6,472.2 200.8,472.2 202.0,472.2 203.2,472.5 204.4,472.6 205.7,472.7 206.9,472.8 208.1,472.8 209.3,473.0 210.5,472.9 211.8,472.6 213.0,472.7 214.2,472.7 215.4,472.9 216.6,472.8 217.8,472.4 219.1,472.5 220.3,472.6 221.5,472.4 222.7,472.2 223.9,471.9 225.1,471.9 226.4,471.9 227.6,472.1 228.8,472.3 230.0,472.6 231.2,472.8 232.4,472.7 233.7,472.9 234.9,473.3 236.1,473.0 237.3,472.9 238.5,472.6 239.7,472.7 241.0,472.7 242.2,472.3 243.4,471.9 244.6,472.1 245.8,472.1 247.0,472.3 248.3,472.0 249.5,472.0 250.7,472.3 251.9,472.7 253.1,472.6 254.3,472.7 255.6,472.6 256.8,472.7 258.0,472.6 259.2,472.5 260.4,472.4 261.6,472.5 262.9,472.2 264.1,472.4 265.3,472.4 266.5,472.4 267.7,472.4 268.9,472.3 270.2,472.5 271.4,472.9 272.6,472.8" fill="none" stroke="#0c0c0c" stroke-width="1.7" stroke-linejoin="round"/>
<polyline points="45.8,475.0 47.1,475.0 48.3,475.0 49.5,475.0 50.7,475.0 51.9,475.0 53.2,475.0 54.4,475.0 55.6,475.0 56.8,475.0 58.0,475.0 59.2,475.0 60.5,475.0 61.7,475.0 62.9,475.0 64.1,475.0 65.3,475.0 66.5,475.0 67.8,475.0 69.0,475.0 70.2,475.0 71.4,475.0 72.6,475.0 73.8,475.1 75.1,475.2 76.3,475.4 77.5,475.5 77.9,475.6 78.3,475.6 78.7,475.7 79.1,470.2 79.5,458.9 79.9,450.4 80.3,444.0 80.7,439.1 81.1,435.4 81.5,432.6 82.0,430.5 82.4,428.9 82.8,427.7 83.2,426.7 83.6,426.0 84.0,425.5 84.4,425.1 84.8,424.8 85.2,424.5 85.6,424.4 86.0,424.2 86.4,424.1 86.8,424.0 87.2,424.0 87.6,423.9 88.0,423.9 89.3,423.8 90.5,423.8 91.7,423.8 92.9,423.8 94.1,423.8 95.3,423.8 96.6,423.7 97.8,423.7 99.0,423.7 100.2,423.7 101.4,423.7 102.6,423.7 103.9,423.7 105.1,423.7 106.3,423.7 107.5,423.7 108.7,423.7 109.9,423.7 111.2,423.7 112.4,423.7 113.6,423.7 114.8,423.7 116.0,423.7 117.2,423.7 118.5,423.7 119.7,423.6 120.9,423.6 122.1,423.6 123.3,423.6 124.5,423.6 125.8,423.6 127.0,423.6 128.2,423.6 129.4,423.6 130.6,423.6 131.8,423.6 133.1,423.6 134.3,423.6 135.5,423.6 136.7,423.6 137.9,423.6 139.1,423.6 140.4,423.6 141.6,423.5 142.8,423.5 144.0,423.5 145.2,423.5 146.4,423.5 147.7,423.5 148.9,423.5 150.1,423.5 151.3,423.5 152.5,423.5 153.7,423.5 155.0,423.5 156.2,423.5 157.4,423.5 158.6,423.5 159.8,423.5 161.0,423.5 162.3,423.5 163.5,423.4 164.7,423.4 165.9,423.4 167.1,423.4 168.3,423.4 169.6,423.4 170.8,423.4 172.0,423.4 173.2,423.4 173.6,423.4 174.0,423.4 174.4,423.4 174.8,423.4 175.2,423.4 175.7,429.7 176.1,436.4 176.5,442.0 176.9,446.8 177.3,450.8 177.7,454.1 178.1,456.9 178.5,459.3 178.9,461.2 179.3,462.9 179.7,464.3 180.1,465.5 180.5,466.4 180.9,467.3 181.3,468.0 181.7,468.5 182.1,469.0 182.5,469.5 183.0,469.8 183.4,470.1 183.8,470.3 184.2,470.5 184.6,470.7 185.0,470.9 185.4,471.0 185.8,471.1 186.2,471.2 186.6,471.3 187.0,471.3 187.4,471.4 187.8,471.4 188.2,471.5 188.6,471.5 189.8,471.6 191.1,471.6 192.3,471.7 193.5,471.7 194.7,471.7 195.9,471.7 197.1,471.7 198.4,471.8 199.6,471.8 200.8,471.8 202.0,471.8 203.2,471.8 204.4,471.8 205.7,471.8 206.9,471.8 208.1,471.9 209.3,471.9 210.5,471.9 211.8,471.9 213.0,471.9 214.2,471.9 215.4,471.9 216.6,472.0 217.8,472.0 219.1,472.0 220.3,472.0 221.5,472.0 222.7,472.0 223.9,472.0 225.1,472.0 226.4,472.1 227.6,472.1 228.8,472.1 230.0,472.1 231.2,472.1 232.4,472.1 233.7,472.1 234.9,472.2 236.1,472.2 237.3,472.2 238.5,472.2 239.7,472.2 241.0,472.2 242.2,472.2 243.4,472.2 244.6,472.3 245.8,472.3 247.0,472.3 248.3,472.3 249.5,472.3 250.7,472.3 251.9,472.3 253.1,472.3 254.3,472.4 255.6,472.4 256.8,472.4 258.0,472.4 259.2,472.4 260.4,472.4 261.6,472.4 262.9,472.5 264.1,472.5 265.3,472.5 266.5,472.5 267.7,472.5 268.9,472.5 270.2,472.5 271.4,472.5 272.6,472.6" fill="none" stroke="#6a6a6a" stroke-width="1.2" stroke-linejoin="round"/>
<polyline points="45.8,474.8 47.1,474.9 48.3,475.2 49.5,475.1 50.7,475.2 51.9,475.4 53.2,475.1 54.4,475.1 55.6,475.2 56.8,475.1 58.0,475.1 59.2,475.1 60.5,474.9 61.7,474.9 62.9,474.9 64.1,474.7 65.3,474.8 66.5,474.6 67.8,474.8 69.0,474.9 70.2,475.0 71.4,475.1 72.6,474.9 73.8,475.0 75.1,475.1 76.3,475.1 77.5,475.1 77.9,475.2 78.3,475.0 78.7,475.1 79.1,469.9 79.5,460.4 79.9,453.8 80.3,449.6 80.7,446.7 81.1,445.0 81.5,443.8 82.0,442.9 82.4,442.3 82.8,442.0 83.2,441.8 83.6,441.5 84.0,441.1 84.4,441.2 84.8,441.1 85.2,440.8 85.6,441.2 86.0,441.2 86.4,441.4 86.8,441.8 87.2,441.6 87.6,441.9 88.0,442.1 89.3,441.7 90.5,441.8 91.7,441.7 92.9,441.7 94.1,441.6 95.3,441.5 96.6,441.6 97.8,441.7 99.0,441.5 100.2,441.5 101.4,441.2 102.6,441.4 103.9,441.3 105.1,441.4 106.3,441.4 107.5,441.6 108.7,441.6 109.9,441.4 111.2,441.3 112.4,441.5 113.6,441.3 114.8,441.4 116.0,441.4 117.2,441.4 118.5,441.5 119.7,441.5 120.9,441.3 122.1,441.5 123.3,441.5 124.5,441.1 125.8,441.0 127.0,441.2 128.2,441.5 129.4,441.6 130.6,441.2 131.8,441.2 133.1,441.4 134.3,441.3 135.5,441.3 136.7,441.0 137.9,441.0 139.1,441.4 140.4,441.1 141.6,441.2 142.8,441.1 144.0,441.2 145.2,441.2 146.4,441.0 147.7,440.8 148.9,441.1 150.1,440.9 151.3,441.0 152.5,440.9 153.7,440.8 155.0,440.9 156.2,441.1 157.4,441.0 158.6,441.3 159.8,441.4 161.0,441.4 162.3,441.6 163.5,441.5 164.7,441.4 165.9,441.4 167.1,440.9 168.3,441.0 169.6,441.1 170.8,440.7 172.0,440.6 173.2,440.6 173.6,440.6 174.0,440.7 174.4,440.5 174.8,443.2 175.2,449.5 175.7,454.2 176.1,458.1 176.5,461.0 176.9,463.5 177.3,465.2 177.7,466.7 178.1,467.9 178.5,469.0 178.9,469.6 179.3,470.2 179.7,470.4 180.1,470.9 180.5,471.2 180.9,471.3 181.3,471.4 181.7,471.5 182.1,471.4 182.5,471.4 183.0,471.4 183.4,471.6 183.8,471.6 184.2,471.7 184.6,471.6 185.0,471.8 185.4,471.9 185.8,472.0 186.2,471.8 186.6,471.7 187.0,471.6 187.4,471.6 187.8,471.6 188.2,471.8 188.6,471.6 189.8,471.5 191.1,471.6 192.3,471.5 193.5,471.6 194.7,471.6 195.9,471.3 197.1,471.5 198.4,471.5 199.6,471.5 200.8,471.8 202.0,472.0 203.2,471.7 204.4,471.9 205.7,471.9 206.9,472.0 208.1,472.0 209.3,471.9 210.5,471.7 211.8,471.9 213.0,471.7 214.2,471.7 215.4,471.5 216.6,471.2 217.8,471.0 219.1,470.9 220.3,470.9 221.5,471.1 222.7,471.1 223.9,471.4 225.1,471.7 226.4,471.9 227.6,471.9 228.8,471.9 230.0,471.9 231.2,472.2 232.4,472.1 233.7,472.1 234.9,472.2 236.1,472.5 237.3,472.9 238.5,472.8 239.7,472.6 241.0,472.3 242.2,472.3 243.4,472.2 244.6,471.9 245.8,471.6 247.0,471.7 248.3,471.7 249.5,472.1 250.7,472.0 251.9,471.8 253.1,471.8 254.3,471.9 255.6,471.9 256.8,472.0 258.0,471.8 259.2,472.2 260.4,472.2 261.6,472.3 262.9,472.1 264.1,472.3 265.3,472.0 266.5,472.2 267.7,472.2 268.9,472.4 270.2,472.4 271.4,472.4 272.6,472.4" fill="none" stroke="#0c0c0c" stroke-width="1.7" stroke-linejoin="round"/>
<polyline points="45.8,475.1 47.1,474.8 48.3,474.6 49.5,474.9 50.7,475.1 51.9,475.1 53.2,475.1 54.4,474.9 55.6,475.2 56.8,475.3 58.0,475.4 59.2,475.5 60.5,475.4 61.7,475.3 62.9,475.3 64.1,475.2 65.3,475.4 66.5,475.2 67.8,474.9 69.0,475.2 70.2,474.9 71.4,474.9 72.6,474.8 73.8,475.0 75.1,475.3 76.3,475.6 77.5,475.4 77.9,475.8 78.3,476.0 78.7,476.4 79.1,471.2 79.5,461.5 79.9,455.3 80.3,451.3 80.7,448.2 81.1,446.1 81.5,444.5 82.0,443.7 82.4,443.3 82.8,442.8 83.2,442.5 83.6,442.4 84.0,442.5 84.4,442.3 84.8,442.2 85.2,442.1 85.6,441.8 86.0,441.6 86.4,441.6 86.8,441.7 87.2,442.1 87.6,442.2 88.0,442.0 89.3,442.2 90.5,442.5 91.7,442.5 92.9,442.3 94.1,442.0 95.3,441.8 96.6,441.8 97.8,441.8 99.0,441.5 100.2,441.6 101.4,441.6 102.6,441.6 103.9,441.7 105.1,441.7 106.3,441.6 107.5,441.6 108.7,441.3 109.9,441.4 111.2,441.5 112.4,441.6 113.6,441.7 114.8,441.8 116.0,441.9 117.2,441.6 118.5,441.6 119.7,441.4 120.9,441.4 122.1,441.4 123.3,441.4 124.5,441.4 125.8,441.8 127.0,441.7 128.2,441.9 129.4,441.6 130.6,441.8 131.8,441.8 133.1,441.7 134.3,441.6 135.5,441.7 136.7,441.6 137.9,441.7 139.1,441.6 140.4,441.7 141.6,442.0 142.8,441.9 144.0,442.0 145.2,442.0 146.4,442.1 147.7,441.9 148.9,441.6 150.1,441.2 151.3,441.2 152.5,441.1 153.7,441.3 155.0,441.4 156.2,441.4 157.4,441.7 158.6,441.9 159.8,441.9 161.0,441.7 162.3,441.6 163.5,441.3 164.7,441.2 165.9,441.1 167.1,441.0 168.3,440.8 169.6,441.2 170.8,441.1 172.0,441.2 173.2,441.2 173.6,441.3 174.0,441.6 174.4,442.1 174.8,444.8 175.2,451.1 175.7,455.9 176.1,459.9 176.5,462.7 176.9,464.9 177.3,466.6 177.7,468.2 178.1,469.2 178.5,470.0 178.9,470.4 179.3,470.8 179.7,471.2 180.1,471.3 180.5,471.4 180.9,471.6 181.3,471.9 181.7,472.0 182.1,472.2 182.5,472.2 183.0,472.1 183.4,472.0 183.8,472.1 184.2,471.9 184.6,471.7 185.0,471.9 185.4,471.7 185.8,471.9 186.2,471.8 186.6,471.7 187.0,471.9 187.4,472.2 187.8,472.1 188.2,472.1 188.6,472.2 189.8,472.5 191.1,472.7 192.3,472.9 193.5,472.7 194.7,472.6 195.9,472.7 197.1,472.9 198.4,472.6 199.6,472.4 200.8,472.4 202.0,472.3 203.2,472.3 204.4,472.2 205.7,472.0 206.9,472.3 208.1,472.4 209.3,472.3 210.5,472.5 211.8,472.3 213.0,472.2 214.2,472.0 215.4,471.7 216.6,471.7 217.8,471.9 219.1,471.9 220.3,472.2 221.5,472.4 222.7,472.6 223.9,472.8 225.1,473.1 226.4,472.8 227.6,472.5 228.8,472.4 230.0,472.4 231.2,472.3 232.4,472.4 233.7,472.2 234.9,472.5 236.1,472.9 237.3,472.8 238.5,472.9 239.7,473.0 241.0,473.1 242.2,473.1 243.4,473.1 244.6,472.9 245.8,473.1 247.0,473.0 248.3,473.0 249.5,472.8 250.7,472.9 251.9,472.9 253.1,473.0 254.3,472.8 255.6,472.7 256.8,472.9 258.0,473.0 259.2,472.9 260.4,472.9 261.6,473.0 262.9,473.1 264.1,473.3 265.3,473.2 266.5,473.3 267.7,473.5 268.9,473.5 270.2,473.5 271.4,473.4 272.6,473.4" fill="none" stroke="#0c0c0c" stroke-width="1.7" stroke-linejoin="round"/>
<polyline points="45.8,475.0 47.1,475.0 48.3,475.0 49.5,475.0 50.7,475.0 51.9,475.0 53.2,475.0 54.4,475.0 55.6,475.0 56.8,475.0 58.0,475.0 59.2,475.0 60.5,475.0 61.7,475.0 62.9,475.0 64.1,475.0 65.3,475.0 66.5,475.0 67.8,475.0 69.0,475.0 70.2,475.0 71.4,475.0 72.6,475.0 73.8,475.1 75.1,475.2 76.3,475.4 77.5,475.5 77.9,475.6 78.3,475.6 78.7,475.7 79.1,472.7 79.5,466.4 79.9,461.5 80.3,457.5 80.7,454.4 81.1,451.9 81.5,449.9 82.0,448.2 82.4,446.9 82.8,445.9 83.2,445.1 83.6,444.4 84.0,443.9 84.4,443.4 84.8,443.1 85.2,442.8 85.6,442.6 86.0,442.4 86.4,442.3 86.8,442.1 87.2,442.1 87.6,442.0 88.0,441.9 89.3,441.8 90.5,441.7 91.7,441.7 92.9,441.7 94.1,441.7 95.3,441.6 96.6,441.6 97.8,441.6 99.0,441.6 100.2,441.6 101.4,441.6 102.6,441.6 103.9,441.6 105.1,441.6 106.3,441.6 107.5,441.6 108.7,441.6 109.9,441.6 111.2,441.6 112.4,441.6 113.6,441.6 114.8,441.6 116.0,441.5 117.2,441.5 118.5,441.5 119.7,441.5 120.9,441.5 122.1,441.5 123.3,441.5 124.5,441.5 125.8,441.5 127.0,441.5 128.2,441.5 129.4,441.5 130.6,441.5 131.8,441.5 133.1,441.5 134.3,441.5 135.5,441.5 136.7,441.5 137.9,441.4 139.1,441.4 140.4,441.4 141.6,441.4 142.8,441.4 144.0,441.4 145.2,441.4 146.4,441.4 147.7,441.4 148.9,441.4 150.1,441.4 151.3,441.4 152.5,441.4 153.7,441.4 155.0,441.4 156.2,441.4 157.4,441.4 158.6,441.4 159.8,441.4 161.0,441.3 162.3,441.3 163.5,441.3 164.7,441.3 165.9,441.3 167.1,441.3 168.3,441.3 169.6,441.3 170.8,441.3 172.0,441.3 173.2,441.3 173.6,441.3 174.0,441.3 174.4,441.3 174.8,441.3 175.2,441.3 175.7,445.3 176.1,449.6 176.5,453.1 176.9,456.1 177.3,458.7 177.7,460.8 178.1,462.6 178.5,464.1 178.9,465.3 179.3,466.4 179.7,467.3 180.1,468.0 180.5,468.7 180.9,469.2 181.3,469.6 181.7,470.0 182.1,470.3 182.5,470.6 183.0,470.8 183.4,471.0 183.8,471.1 184.2,471.3 184.6,471.4 185.0,471.5 185.4,471.6 185.8,471.6 186.2,471.7 186.6,471.7 187.0,471.8 187.4,471.8 187.8,471.8 188.2,471.9 188.6,471.9 189.8,471.9 191.1,472.0 192.3,472.0 193.5,472.0 194.7,472.0 195.9,472.1 197.1,472.1 198.4,472.1 199.6,472.1 200.8,472.1 202.0,472.1 203.2,472.1 204.4,472.1 205.7,472.2 206.9,472.2 208.1,472.2 209.3,472.2 210.5,472.2 211.8,472.2 213.0,472.2 214.2,472.2 215.4,472.2 216.6,472.3 217.8,472.3 219.1,472.3 220.3,472.3 221.5,472.3 222.7,472.3 223.9,472.3 225.1,472.3 226.4,472.4 227.6,472.4 228.8,472.4 230.0,472.4 231.2,472.4 232.4,472.4 233.7,472.4 234.9,472.4 236.1,472.4 237.3,472.5 238.5,472.5 239.7,472.5 241.0,472.5 242.2,472.5 243.4,472.5 244.6,472.5 245.8,472.5 247.0,472.6 248.3,472.6 249.5,472.6 250.7,472.6 251.9,472.6 253.1,472.6 254.3,472.6 255.6,472.6 256.8,472.6 258.0,472.7 259.2,472.7 260.4,472.7 261.6,472.7 262.9,472.7 264.1,472.7 265.3,472.7 266.5,472.7 267.7,472.8 268.9,472.8 270.2,472.8 271.4,472.8 272.6,472.8" fill="none" stroke="#6a6a6a" stroke-width="1.2" stroke-linejoin="round"/>
<polyline points="45.8,475.1 47.1,475.3 48.3,475.2 49.5,475.2 50.7,475.0 51.9,475.1 53.2,475.0 54.4,475.2 55.6,474.9 56.8,474.7 58.0,474.7 59.2,474.8 60.5,474.8 61.7,474.8 62.9,474.6 64.1,474.7 65.3,475.0 66.5,474.9 67.8,474.8 69.0,474.6 70.2,474.6 71.4,474.9 72.6,475.0 73.8,474.8 75.1,475.1 76.3,475.3 77.5,475.3 77.9,475.4 78.3,475.1 78.7,475.1 79.1,473.0 79.5,468.1 79.9,464.7 80.3,462.3 80.7,460.4 81.1,459.2 81.5,458.1 82.0,457.2 82.4,456.6 82.8,455.9 83.2,455.6 83.6,455.4 84.0,455.2 84.4,455.2 84.8,455.0 85.2,454.9 85.6,455.2 86.0,455.3 86.4,455.3 86.8,455.3 87.2,455.1 87.6,455.3 88.0,455.3 89.3,455.1 90.5,455.2 91.7,455.1 92.9,455.1 94.1,455.1 95.3,455.1 96.6,455.1 97.8,455.3 99.0,455.2 100.2,455.1 101.4,455.0 102.6,455.1 103.9,455.1 105.1,455.0 106.3,455.0 107.5,455.0 108.7,455.0 109.9,455.0 111.2,455.1 112.4,455.3 113.6,455.2 114.8,454.9 116.0,454.9 117.2,455.0 118.5,455.0 119.7,455.1 120.9,454.8 122.1,454.9 123.3,455.1 124.5,454.9 125.8,455.1 127.0,455.1 128.2,454.7 129.4,454.6 130.6,454.7 131.8,454.5 133.1,454.4 134.3,454.3 135.5,454.5 136.7,454.6 137.9,454.8 139.1,454.9 140.4,454.8 141.6,454.9 142.8,454.8 144.0,454.5 145.2,454.5 146.4,454.3 147.7,454.2 148.9,454.2 150.1,454.5 151.3,454.5 152.5,454.7 153.7,454.7 155.0,454.9 156.2,454.8 157.4,455.0 158.6,455.0 159.8,455.1 161.0,455.1 162.3,455.1 163.5,455.2 164.7,455.1 165.9,455.0 167.1,454.7 168.3,454.7 169.6,454.5 170.8,454.3 172.0,454.1 173.2,453.9 173.6,454.0 174.0,454.0 174.4,453.8 174.8,455.7 175.2,459.3 175.7,462.1 176.1,464.3 176.5,466.0 176.9,467.1 177.3,468.3 177.7,468.9 178.1,469.4 178.5,469.9 178.9,470.2 179.3,470.6 179.7,471.1 180.1,471.3 180.5,471.5 180.9,471.5 181.3,471.8 181.7,471.9 182.1,472.0 182.5,471.9 183.0,471.9 183.4,471.9 183.8,472.1 184.2,471.8 184.6,472.0 185.0,471.8 185.4,471.6 185.8,471.6 186.2,471.6 186.6,471.7 187.0,472.0 187.4,471.9 187.8,472.1 188.2,471.9 188.6,472.0 189.8,471.9 191.1,471.8 192.3,471.6 193.5,471.5 194.7,471.5 195.9,471.8 197.1,471.7 198.4,472.1 199.6,472.0 200.8,472.0 202.0,472.1 203.2,471.8 204.4,472.0 205.7,472.0 206.9,471.7 208.1,471.9 209.3,471.8 210.5,472.1 211.8,472.4 213.0,472.3 214.2,472.5 215.4,472.6 216.6,472.7 217.8,472.8 219.1,472.8 220.3,472.6 221.5,472.9 222.7,472.7 223.9,472.8 225.1,472.6 226.4,472.6 227.6,472.5 228.8,472.7 230.0,472.8 231.2,472.9 232.4,472.9 233.7,473.0 234.9,473.0 236.1,473.2 237.3,473.2 238.5,473.0 239.7,473.1 241.0,473.0 242.2,472.9 243.4,473.1 244.6,473.0 245.8,472.8 247.0,472.8 248.3,472.7 249.5,472.7 250.7,472.9 251.9,472.9 253.1,472.8 254.3,472.9 255.6,472.7 256.8,472.7 258.0,472.7 259.2,472.5 260.4,472.4 261.6,472.3 262.9,472.4 264.1,472.4 265.3,472.7 266.5,472.8 267.7,472.7 268.9,473.0 270.2,472.9 271.4,472.9 272.6,473.0" fill="none" stroke="#0c0c0c" stroke-width="1.7" stroke-linejoin="round"/>
<polyline points="45.8,475.7 47.1,475.6 48.3,475.6 49.5,475.9 50.7,475.9 51.9,475.4 53.2,475.4 54.4,475.1 55.6,475.1 56.8,475.2 58.0,475.0 59.2,474.9 60.5,475.1 61.7,474.8 62.9,475.3 64.1,475.3 65.3,475.1 66.5,475.2 67.8,475.4 69.0,475.2 70.2,475.2 71.4,475.0 72.6,475.1 73.8,475.3 75.1,475.4 76.3,475.3 77.5,475.3 77.9,475.5 78.3,475.6 78.7,475.4 79.1,472.9 79.5,468.4 79.9,464.9 80.3,462.9 80.7,460.9 81.1,459.6 81.5,458.5 82.0,457.8 82.4,457.3 82.8,457.1 83.2,456.4 83.6,456.2 84.0,456.1 84.4,456.1 84.8,456.3 85.2,455.8 85.6,455.8 86.0,455.8 86.4,456.0 86.8,455.8 87.2,455.7 87.6,455.3 88.0,455.5 89.3,455.5 90.5,455.3 91.7,455.3 92.9,455.4 94.1,455.4 95.3,455.7 96.6,455.8 97.8,455.8 99.0,455.7 100.2,456.0 101.4,456.0 102.6,456.0 103.9,455.9 105.1,455.9 106.3,455.8 107.5,455.9 108.7,455.6 109.9,455.5 111.2,455.3 112.4,455.5 113.6,455.5 114.8,455.7 116.0,455.8 117.2,455.8 118.5,455.8 119.7,455.8 120.9,455.7 122.1,455.7 123.3,455.6 124.5,455.4 125.8,455.4 127.0,455.2 128.2,455.0 129.4,455.0 130.6,455.0 131.8,455.0 133.1,455.0 134.3,454.9 135.5,455.0 136.7,455.4 137.9,455.4 139.1,455.5 140.4,455.3 141.6,455.4 142.8,455.5 144.0,455.4 145.2,455.2 146.4,455.2 147.7,454.8 148.9,454.8 150.1,454.9 151.3,455.2 152.5,455.5 153.7,455.7 155.0,455.6 156.2,455.8 157.4,455.7 158.6,455.6 159.8,455.5 161.0,455.4 162.3,454.9 163.5,455.1 164.7,455.0 165.9,455.1 167.1,455.1 168.3,455.0 169.6,454.9 170.8,455.0 172.0,454.8 173.2,454.8 173.6,454.9 174.0,455.0 174.4,455.0 174.8,456.8 175.2,460.5 175.7,463.1 176.1,465.1 176.5,466.8 176.9,468.0 177.3,469.0 177.7,469.6 178.1,470.3 178.5,470.9 178.9,471.5 179.3,471.8 179.7,472.0 180.1,472.1 180.5,472.2 180.9,472.3 181.3,472.4 181.7,472.5 182.1,472.6 182.5,472.7 183.0,472.9 183.4,473.0 183.8,473.2 184.2,473.1 184.6,473.3 185.0,472.9 185.4,472.9 185.8,472.6 186.2,472.7 186.6,472.6 187.0,472.8 187.4,472.6 187.8,472.8 188.2,473.0 188.6,473.1 189.8,473.1 191.1,473.2 192.3,473.1 193.5,473.2 194.7,473.2 195.9,473.1 197.1,473.2 198.4,473.3 199.6,473.3 200.8,473.4 202.0,473.1 203.2,473.2 204.4,473.1 205.7,473.2 206.9,473.1 208.1,473.1 209.3,473.1 210.5,473.2 211.8,472.9 213.0,473.1 214.2,472.8 215.4,472.7 216.6,472.6 217.8,472.7 219.1,472.7 220.3,472.9 221.5,472.8 222.7,473.0 223.9,473.0 225.1,473.0 226.4,472.8 227.6,472.9 228.8,472.8 230.0,472.7 231.2,472.8 232.4,472.7 233.7,473.0 234.9,473.1 236.1,473.0 237.3,472.9 238.5,473.1 239.7,473.0 241.0,473.3 242.2,473.3 243.4,473.3 244.6,473.4 245.8,473.6 247.0,473.6 248.3,473.7 249.5,473.6 250.7,473.5 251.9,473.5 253.1,473.3 254.3,473.2 255.6,473.5 256.8,473.3 258.0,473.3 259.2,473.2 260.4,473.3 261.6,473.6 262.9,473.4 264.1,473.2 265.3,473.2 266.5,473.3 267.7,473.4 268.9,473.3 270.2,473.4 271.4,473.6 272.6,473.8" fill="none" stroke="#0c0c0c" stroke-width="1.7" stroke-linejoin="round"/>
<polyline points="45.8,475.0 47.1,475.0 48.3,475.0 49.5,475.0 50.7,475.0 51.9,475.0 53.2,475.0 54.4,475.0 55.6,475.0 56.8,475.0 58.0,475.0 59.2,475.0 60.5,475.0 61.7,475.0 62.9,475.0 64.1,475.0 65.3,475.0 66.5,475.0 67.8,475.0 69.0,475.0 70.2,475.0 71.4,475.0 72.6,475.0 73.8,475.1 75.1,475.2 76.3,475.4 77.5,475.5 77.9,475.6 78.3,475.6 78.7,475.7 79.1,474.3 79.5,471.2 79.9,468.7 80.3,466.6 80.7,464.9 81.1,463.4 81.5,462.2 82.0,461.1 82.4,460.3 82.8,459.5 83.2,458.9 83.6,458.3 84.0,457.9 84.4,457.5 84.8,457.2 85.2,456.9 85.6,456.7 86.0,456.4 86.4,456.3 86.8,456.1 87.2,456.0 87.6,455.9 88.0,455.8 89.3,455.6 90.5,455.5 91.7,455.4 92.9,455.4 94.1,455.3 95.3,455.3 96.6,455.3 97.8,455.3 99.0,455.3 100.2,455.3 101.4,455.3 102.6,455.3 103.9,455.3 105.1,455.3 106.3,455.2 107.5,455.2 108.7,455.2 109.9,455.2 111.2,455.2 112.4,455.2 113.6,455.2 114.8,455.2 116.0,455.2 117.2,455.2 118.5,455.2 119.7,455.2 120.9,455.2 122.1,455.2 123.3,455.2 124.5,455.2 125.8,455.2 127.0,455.2 128.2,455.1 129.4,455.1 130.6,455.1 131.8,455.1 133.1,455.1 134.3,455.1 135.5,455.1 136.7,455.1 137.9,455.1 139.1,455.1 140.4,455.1 141.6,455.1 142.8,455.1 144.0,455.1 145.2,455.1 146.4,455.1 147.7,455.1 148.9,455.1 150.1,455.0 151.3,455.0 152.5,455.0 153.7,455.0 155.0,455.0 156.2,455.0 157.4,455.0 158.6,455.0 159.8,455.0 161.0,455.0 162.3,455.0 163.5,455.0 164.7,455.0 165.9,455.0 167.1,455.0 168.3,455.0 169.6,455.0 170.8,455.0 172.0,455.0 173.2,454.9 173.6,454.9 174.0,454.9 174.4,454.9 174.8,454.9 175.2,454.9 175.7,457.2 176.1,459.7 176.5,461.7 176.9,463.4 177.3,464.9 177.7,466.1 178.1,467.1 178.5,468.0 178.9,468.7 179.3,469.3 179.7,469.8 180.1,470.2 180.5,470.6 180.9,470.9 181.3,471.1 181.7,471.3 182.1,471.5 182.5,471.7 183.0,471.8 183.4,471.9 183.8,472.0 184.2,472.1 184.6,472.1 185.0,472.2 185.4,472.2 185.8,472.3 186.2,472.3 186.6,472.3 187.0,472.4 187.4,472.4 187.8,472.4 188.2,472.4 188.6,472.4 189.8,472.5 191.1,472.5 192.3,472.5 193.5,472.5 194.7,472.5 195.9,472.5 197.1,472.6 198.4,472.6 199.6,472.6 200.8,472.6 202.0,472.6 203.2,472.6 204.4,472.6 205.7,472.6 206.9,472.6 208.1,472.6 209.3,472.7 210.5,472.7 211.8,472.7 213.0,472.7 214.2,472.7 215.4,472.7 216.6,472.7 217.8,472.7 219.1,472.7 220.3,472.7 221.5,472.8 222.7,472.8 223.9,472.8 225.1,472.8 226.4,472.8 227.6,472.8 228.8,472.8 230.0,472.8 231.2,472.8 232.4,472.8 233.7,472.9 234.9,472.9 236.1,472.9 237.3,472.9 238.5,472.9 239.7,472.9 241.0,472.9 242.2,472.9 243.4,472.9 244.6,472.9 245.8,473.0 247.0,473.0 248.3,473.0 249.5,473.0 250.7,473.0 251.9,473.0 253.1,473.0 254.3,473.0 255.6,473.0 256.8,473.0 258.0,473.0 259.2,473.1 260.4,473.1 261.6,473.1 262.9,473.1 264.1,473.1 265.3,473.1 266.5,473.1 267.7,473.1 268.9,473.1 270.2,473.1 271.4,473.2 272.6,473.2" fill="none" stroke="#6a6a6a" stroke-width="1.2" stroke-linejoin="round"/>
<polyline points="45.8,475.2 47.1,475.0 48.3,474.9 49.5,475.1 50.7,475.0 51.9,475.1 53.2,474.7 54.4,474.6 55.6,474.6 56.8,474.4 58.0,474.3 59.2,474.4 60.5,474.5 61.7,474.8 62.9,474.9 64.1,475.2 65.3,475.4 66.5,475.4 67.8,475.2 69.0,475.2 70.2,474.9 71.4,475.0 72.6,474.8 73.8,475.1 75.1,475.4 76.3,475.7 77.5,475.7 77.9,475.8 78.3,475.9 78.7,475.9 79.1,474.4 79.5,471.9 79.9,470.0 80.3,468.8 80.7,467.8 81.1,467.1 81.5,466.5 82.0,465.9 82.4,465.3 82.8,465.1 83.2,464.9 83.6,464.7 84.0,464.2 84.4,464.1 84.8,464.2 85.2,464.2 85.6,464.2 86.0,464.0 86.4,464.0 86.8,464.2 87.2,464.2 87.6,464.0 88.0,464.2 89.3,464.1 90.5,464.1 91.7,464.1 92.9,464.0 94.1,463.7 95.3,463.7 96.6,463.5 97.8,463.6 99.0,463.5 100.2,463.6 101.4,463.6 102.6,463.7 103.9,463.7 105.1,463.9 106.3,463.8 107.5,464.0 108.7,464.0 109.9,463.9 111.2,463.9 112.4,464.1 113.6,463.9 114.8,463.7 116.0,463.7 117.2,463.4 118.5,463.3 119.7,463.4 120.9,463.3 122.1,463.4 123.3,463.4 124.5,463.5 125.8,463.5 127.0,463.6 128.2,463.5 129.4,463.4 130.6,463.3 131.8,463.3 133.1,463.1 134.3,463.0 135.5,463.0 136.7,462.9 137.9,463.0 139.1,463.1 140.4,463.2 141.6,463.3 142.8,463.4 144.0,463.3 145.2,463.4 146.4,463.7 147.7,463.8 148.9,463.9 150.1,463.9 151.3,463.9 152.5,464.0 153.7,463.7 155.0,463.5 156.2,463.2 157.4,463.3 158.6,463.1 159.8,463.0 161.0,462.9 162.3,463.3 163.5,463.2 164.7,463.1 165.9,462.9 167.1,463.1 168.3,463.3 169.6,463.3 170.8,463.1 172.0,463.3 173.2,463.5 173.6,463.5 174.0,463.5 174.4,463.3 174.8,464.2 175.2,466.0 175.7,467.5 176.1,468.6 176.5,469.5 176.9,470.2 177.3,470.6 177.7,471.2 178.1,471.7 178.5,471.8 178.9,471.8 179.3,472.0 179.7,472.0 180.1,472.3 180.5,472.3 180.9,472.3 181.3,472.6 181.7,472.6 182.1,472.7 182.5,472.6 183.0,472.7 183.4,472.6 183.8,472.6 184.2,472.3 184.6,472.3 185.0,472.6 185.4,472.5 185.8,472.6 186.2,472.7 186.6,472.5 187.0,472.6 187.4,472.8 187.8,472.6 188.2,472.6 188.6,472.6 189.8,472.7 191.1,472.8 192.3,472.8 193.5,472.8 194.7,472.6 195.9,472.8 197.1,472.8 198.4,472.6 199.6,472.6 200.8,472.6 202.0,472.5 203.2,472.4 204.4,472.3 205.7,472.1 206.9,472.4 208.1,472.3 209.3,472.3 210.5,472.4 211.8,472.7 213.0,472.7 214.2,473.0 215.4,472.9 216.6,472.9 217.8,472.7 219.1,472.8 220.3,472.8 221.5,472.8 222.7,472.9 223.9,472.6 225.1,472.7 226.4,472.8 227.6,472.8 228.8,472.9 230.0,472.7 231.2,472.5 232.4,472.8 233.7,472.8 234.9,472.9 236.1,472.8 237.3,472.8 238.5,473.0 239.7,473.0 241.0,472.9 242.2,472.9 243.4,472.9 244.6,472.8 245.8,472.6 247.0,472.5 248.3,472.5 249.5,472.7 250.7,472.8 251.9,472.9 253.1,473.1 254.3,473.2 255.6,473.1 256.8,473.0 258.0,472.8 259.2,472.9 260.4,472.8 261.6,472.8 262.9,472.8 264.1,473.2 265.3,473.2 266.5,473.5 267.7,473.5 268.9,473.5 270.2,473.5 271.4,473.4 272.6,473.2" fill="none" stroke="#0c0c0c" stroke-width="1.7" stroke-linejoin="round"/>
<polyline points="45.8,474.6 47.1,474.8 48.3,475.0 49.5,474.9 50.7,475.0 51.9,475.0 53.2,474.8 54.4,474.8 55.6,474.7 56.8,474.6 58.0,474.6 59.2,474.8 60.5,474.7 61.7,475.0 62.9,474.9 64.1,475.0 65.3,474.9 66.5,475.0 67.8,474.8 69.0,474.8 70.2,474.8 71.4,474.7 72.6,474.7 73.8,475.1 75.1,475.1 76.3,475.3 77.5,475.6 77.9,475.8 78.3,476.0 78.7,476.0 79.1,474.7 79.5,472.4 79.9,470.9 80.3,469.6 80.7,468.1 81.1,467.1 81.5,466.5 82.0,466.1 82.4,465.6 82.8,465.0 83.2,464.6 83.6,464.8 84.0,464.8 84.4,464.6 84.8,464.3 85.2,464.2 85.6,464.2 86.0,464.1 86.4,463.9 86.8,463.8 87.2,463.8 87.6,463.9 88.0,463.9 89.3,464.0 90.5,464.2 91.7,464.4 92.9,464.5 94.1,464.5 95.3,464.5 96.6,464.6 97.8,464.7 99.0,464.6 100.2,464.4 101.4,464.4 102.6,464.3 103.9,464.1 105.1,464.2 106.3,464.1 107.5,464.1 108.7,464.1 109.9,464.0 111.2,464.2 112.4,464.2 113.6,464.3 114.8,464.1 116.0,464.0 117.2,463.9 118.5,463.7 119.7,463.7 120.9,463.8 122.1,463.6 123.3,463.6 124.5,463.8 125.8,463.8 127.0,464.1 128.2,464.0 129.4,463.8 130.6,463.9 131.8,464.0 133.1,463.8 134.3,464.1 135.5,464.0 136.7,464.0 137.9,464.1 139.1,464.1 140.4,464.2 141.6,464.2 142.8,463.7 144.0,463.8 145.2,463.7 146.4,464.0 147.7,464.0 148.9,463.9 150.1,463.9 151.3,464.2 152.5,464.2 153.7,464.2 155.0,464.1 156.2,464.1 157.4,464.3 158.6,464.3 159.8,464.1 161.0,463.9 162.3,464.3 163.5,464.0 164.7,463.9 165.9,463.8 167.1,463.6 168.3,463.7 169.6,463.9 170.8,463.7 172.0,463.9 173.2,464.0 173.6,463.9 174.0,464.0 174.4,464.0 174.8,464.9 175.2,466.5 175.7,468.0 176.1,469.1 176.5,470.0 176.9,470.7 177.3,471.4 177.7,471.6 178.1,472.0 178.5,472.2 178.9,472.5 179.3,472.6 179.7,472.9 180.1,473.0 180.5,473.1 180.9,473.4 181.3,473.5 181.7,473.3 182.1,473.4 182.5,473.5 183.0,473.4 183.4,473.4 183.8,473.4 184.2,473.4 184.6,473.4 185.0,473.4 185.4,473.5 185.8,473.8 186.2,473.9 186.6,473.9 187.0,474.0 187.4,474.0 187.8,473.9 188.2,473.6 188.6,473.3 189.8,473.3 191.1,473.4 192.3,473.2 193.5,473.3 194.7,473.3 195.9,473.4 197.1,473.5 198.4,473.6 199.6,473.5 200.8,473.7 202.0,473.9 203.2,474.0 204.4,474.1 205.7,474.0 206.9,474.3 208.1,474.4 209.3,474.2 210.5,474.0 211.8,474.2 213.0,474.2 214.2,474.1 215.4,473.8 216.6,473.6 217.8,473.5 219.1,473.7 220.3,473.4 221.5,473.4 222.7,473.5 223.9,473.4 225.1,473.6 226.4,473.8 227.6,473.8 228.8,473.9 230.0,473.8 231.2,473.7 232.4,473.7 233.7,473.6 234.9,473.6 236.1,473.4 237.3,473.4 238.5,473.6 239.7,473.6 241.0,473.8 242.2,473.7 243.4,473.7 244.6,473.8 245.8,473.7 247.0,473.8 248.3,473.9 249.5,474.0 250.7,474.1 251.9,474.0 253.1,474.0 254.3,474.0 255.6,473.9 256.8,473.7 258.0,473.8 259.2,474.0 260.4,474.1 261.6,474.3 262.9,474.4 264.1,474.4 265.3,474.5 266.5,474.4 267.7,474.4 268.9,474.4 270.2,474.4 271.4,474.3 272.6,474.4" fill="none" stroke="#0c0c0c" stroke-width="1.7" stroke-linejoin="round"/>
<polyline points="45.8,475.0 47.1,475.0 48.3,475.0 49.5,475.0 50.7,475.0 51.9,475.0 53.2,475.0 54.4,475.0 55.6,475.0 56.8,475.0 58.0,475.0 59.2,475.0 60.5,475.0 61.7,475.0 62.9,475.0 64.1,475.0 65.3,475.0 66.5,475.0 67.8,475.0 69.0,475.0 70.2,475.0 71.4,475.0 72.6,475.0 73.8,475.1 75.1,475.2 76.3,475.4 77.5,475.5 77.9,475.6 78.3,475.6 78.7,475.7 79.1,474.9 79.5,473.3 79.9,472.1 80.3,471.0 80.7,470.1 81.1,469.3 81.5,468.7 82.0,468.1 82.4,467.6 82.8,467.1 83.2,466.8 83.6,466.4 84.0,466.1 84.4,465.9 84.8,465.6 85.2,465.5 85.6,465.3 86.0,465.1 86.4,465.0 86.8,464.9 87.2,464.8 87.6,464.7 88.0,464.6 89.3,464.5 90.5,464.3 91.7,464.3 92.9,464.2 94.1,464.2 95.3,464.1 96.6,464.1 97.8,464.1 99.0,464.1 100.2,464.1 101.4,464.1 102.6,464.1 103.9,464.1 105.1,464.1 106.3,464.1 107.5,464.1 108.7,464.0 109.9,464.0 111.2,464.0 112.4,464.0 113.6,464.0 114.8,464.0 116.0,464.0 117.2,464.0 118.5,464.0 119.7,464.0 120.9,464.0 122.1,464.0 123.3,464.0 124.5,464.0 125.8,464.0 127.0,464.0 128.2,464.0 129.4,464.0 130.6,463.9 131.8,463.9 133.1,463.9 134.3,463.9 135.5,463.9 136.7,463.9 137.9,463.9 139.1,463.9 140.4,463.9 141.6,463.9 142.8,463.9 144.0,463.9 145.2,463.9 146.4,463.9 147.7,463.9 148.9,463.9 150.1,463.9 151.3,463.9 152.5,463.9 153.7,463.8 155.0,463.8 156.2,463.8 157.4,463.8 158.6,463.8 159.8,463.8 161.0,463.8 162.3,463.8 163.5,463.8 164.7,463.8 165.9,463.8 167.1,463.8 168.3,463.8 169.6,463.8 170.8,463.8 172.0,463.8 173.2,463.8 173.6,463.8 174.0,463.8 174.4,463.8 174.8,463.8 175.2,463.7 175.7,464.9 176.1,466.2 176.5,467.3 176.9,468.2 177.3,469.0 177.7,469.6 178.1,470.1 178.5,470.6 178.9,471.0 179.3,471.3 179.7,471.6 180.1,471.8 180.5,472.0 180.9,472.1 181.3,472.3 181.7,472.4 182.1,472.5 182.5,472.5 183.0,472.6 183.4,472.7 183.8,472.7 184.2,472.8 184.6,472.8 185.0,472.8 185.4,472.9 185.8,472.9 186.2,472.9 186.6,472.9 187.0,472.9 187.4,472.9 187.8,472.9 188.2,473.0 188.6,473.0 189.8,473.0 191.1,473.0 192.3,473.0 193.5,473.0 194.7,473.0 195.9,473.0 197.1,473.0 198.4,473.1 199.6,473.1 200.8,473.1 202.0,473.1 203.2,473.1 204.4,473.1 205.7,473.1 206.9,473.1 208.1,473.1 209.3,473.1 210.5,473.1 211.8,473.1 213.0,473.1 214.2,473.2 215.4,473.2 216.6,473.2 217.8,473.2 219.1,473.2 220.3,473.2 221.5,473.2 222.7,473.2 223.9,473.2 225.1,473.2 226.4,473.2 227.6,473.2 228.8,473.3 230.0,473.3 231.2,473.3 232.4,473.3 233.7,473.3 234.9,473.3 236.1,473.3 237.3,473.3 238.5,473.3 239.7,473.3 241.0,473.3 242.2,473.3 243.4,473.3 244.6,473.4 245.8,473.4 247.0,473.4 248.3,473.4 249.5,473.4 250.7,473.4 251.9,473.4 253.1,473.4 254.3,473.4 255.6,473.4 256.8,473.4 258.0,473.4 259.2,473.4 260.4,473.5 261.6,473.5 262.9,473.5 264.1,473.5 265.3,473.5 266.5,473.5 267.7,473.5 268.9,473.5 270.2,473.5 271.4,473.5 272.6,473.5" fill="none" stroke="#6a6a6a" stroke-width="1.2" stroke-linejoin="round"/>
<polyline points="45.8,475.6 47.1,475.7 48.3,475.5 49.5,475.4 50.7,475.4 51.9,475.2 53.2,475.1 54.4,475.1 55.6,475.2 56.8,475.0 58.0,475.0 59.2,475.0 60.5,474.8 61.7,474.8 62.9,474.9 64.1,474.9 65.3,474.7 66.5,474.8 67.8,474.8 69.0,474.9 70.2,475.0 71.4,475.1 72.6,475.1 73.8,475.2 75.1,475.3 76.3,475.6 77.5,475.7 77.9,475.7 78.3,475.6 78.7,475.7 79.1,475.0 79.5,473.6 79.9,472.6 80.3,471.6 80.7,470.8 81.1,470.1 81.5,469.5 82.0,469.1 82.4,468.9 82.8,468.5 83.2,468.4 83.6,468.4 84.0,468.6 84.4,468.5 84.8,468.4 85.2,468.2 85.6,468.3 86.0,468.3 86.4,468.3 86.8,468.0 87.2,468.1 87.6,468.1 88.0,468.0 89.3,468.2 90.5,468.4 91.7,468.0 92.9,468.1 94.1,467.9 95.3,467.9 96.6,467.7 97.8,467.4 99.0,467.4 100.2,467.7 101.4,468.0 102.6,468.1 103.9,468.1 105.1,468.6 106.3,468.6 107.5,468.4 108.7,468.3 109.9,468.1 111.2,468.2 112.4,468.5 113.6,468.4 114.8,468.3 116.0,468.2 117.2,468.4 118.5,468.2 119.7,468.0 120.9,467.9 122.1,467.5 123.3,467.8 124.5,468.1 125.8,467.9 127.0,467.8 128.2,467.7 129.4,467.3 130.6,467.6 131.8,467.2 133.1,467.0 134.3,467.0 135.5,467.1 136.7,467.4 137.9,467.6 139.1,467.8 140.4,467.7 141.6,467.9 142.8,468.1 144.0,468.1 145.2,468.1 146.4,468.0 147.7,467.7 148.9,467.9 150.1,467.9 151.3,467.7 152.5,467.8 153.7,467.8 155.0,467.8 156.2,467.6 157.4,467.6 158.6,467.6 159.8,467.3 161.0,467.2 162.3,467.1 163.5,467.0 164.7,467.2 165.9,467.2 167.1,466.9 168.3,467.0 169.6,467.0 170.8,467.1 172.0,467.2 173.2,467.3 173.6,467.3 174.0,467.4 174.4,467.5 174.8,468.1 175.2,468.8 175.7,469.5 176.1,470.2 176.5,470.8 176.9,471.2 177.3,471.4 177.7,471.7 178.1,472.0 178.5,472.3 178.9,472.4 179.3,472.4 179.7,472.6 180.1,472.6 180.5,472.7 180.9,473.1 181.3,473.3 181.7,473.2 182.1,473.4 182.5,473.7 183.0,473.6 183.4,473.7 183.8,473.6 184.2,473.4 184.6,473.7 185.0,473.4 185.4,473.2 185.8,473.3 186.2,473.2 186.6,473.1 187.0,473.1 187.4,472.9 187.8,473.2 188.2,473.3 188.6,473.4 189.8,473.2 191.1,473.3 192.3,473.2 193.5,473.2 194.7,473.0 195.9,472.7 197.1,472.9 198.4,473.0 199.6,473.0 200.8,473.1 202.0,473.2 203.2,473.4 204.4,473.6 205.7,473.5 206.9,473.3 208.1,473.1 209.3,473.1 210.5,472.9 211.8,472.9 213.0,473.1 214.2,473.2 215.4,473.5 216.6,473.5 217.8,473.5 219.1,473.7 220.3,473.7 221.5,473.5 222.7,473.4 223.9,473.5 225.1,473.7 226.4,473.8 227.6,473.8 228.8,473.9 230.0,473.8 231.2,473.5 232.4,473.5 233.7,473.2 234.9,473.3 236.1,473.1 237.3,473.2 238.5,473.2 239.7,473.4 241.0,473.3 242.2,473.4 243.4,473.3 244.6,473.5 245.8,473.4 247.0,473.4 248.3,473.5 249.5,473.4 250.7,473.4 251.9,473.5 253.1,473.3 254.3,473.2 255.6,473.4 256.8,473.3 258.0,473.5 259.2,473.8 260.4,473.5 261.6,473.6 262.9,473.7 264.1,473.5 265.3,473.4 266.5,473.3 267.7,473.1 268.9,473.2 270.2,473.4 271.4,473.4 272.6,473.4" fill="none" stroke="#0c0c0c" stroke-width="1.7" stroke-linejoin="round"/>
<polyline points="45.8,475.4 47.1,475.2 48.3,475.4 49.5,475.5 50.7,475.5 51.9,475.3 53.2,475.4 54.4,475.3 55.6,475.2 56.8,475.2 58.0,475.0 59.2,474.8 60.5,474.7 61.7,474.6 62.9,474.7 64.1,474.8 65.3,474.9 66.5,474.8 67.8,475.0 69.0,475.1 70.2,475.2 71.4,475.4 72.6,475.3 73.8,475.2 75.1,475.3 76.3,475.7 77.5,475.8 77.9,475.7 78.3,475.7 78.7,475.7 79.1,475.2 79.5,473.9 79.9,472.8 80.3,471.9 80.7,471.3 81.1,470.8 81.5,470.5 82.0,470.1 82.4,469.7 82.8,469.4 83.2,469.2 83.6,469.1 84.0,469.0 84.4,468.7 84.8,468.8 85.2,468.7 85.6,468.7 86.0,468.9 86.4,469.0 86.8,468.9 87.2,468.8 87.6,468.9 88.0,468.8 89.3,468.7 90.5,468.7 91.7,468.5 92.9,468.4 94.1,468.7 95.3,468.8 96.6,468.9 97.8,469.0 99.0,468.9 100.2,469.1 101.4,469.2 102.6,469.1 103.9,469.1 105.1,469.1 106.3,469.0 107.5,469.1 108.7,469.0 109.9,468.9 111.2,469.0 112.4,468.8 113.6,468.7 114.8,468.5 116.0,468.4 117.2,468.2 118.5,468.2 119.7,468.0 120.9,468.2 122.1,468.0 123.3,468.2 124.5,468.3 125.8,468.4 127.0,468.3 128.2,468.2 129.4,468.2 130.6,468.3 131.8,468.1 133.1,468.1 134.3,467.9 135.5,468.1 136.7,468.2 137.9,468.0 139.1,467.7 140.4,467.9 141.6,467.9 142.8,467.8 144.0,467.8 145.2,467.7 146.4,467.7 147.7,468.1 148.9,468.2 150.1,468.2 151.3,468.2 152.5,468.1 153.7,468.1 155.0,468.3 156.2,468.1 157.4,468.1 158.6,468.0 159.8,468.1 161.0,468.2 162.3,468.4 163.5,468.3 164.7,468.4 165.9,468.4 167.1,468.4 168.3,468.4 169.6,468.4 170.8,468.2 172.0,468.2 173.2,468.1 173.6,468.0 174.0,468.0 174.4,468.1 174.8,468.6 175.2,470.0 175.7,470.9 176.1,471.5 176.5,472.1 176.9,472.3 177.3,472.6 177.7,472.9 178.1,473.3 178.5,473.3 178.9,473.9 179.3,473.9 179.7,474.0 180.1,474.1 180.5,474.0 180.9,473.8 181.3,473.9 181.7,473.7 182.1,473.9 182.5,474.0 183.0,474.0 183.4,474.0 183.8,474.0 184.2,474.1 184.6,474.2 185.0,474.3 185.4,474.3 185.8,474.3 186.2,474.2 186.6,474.3 187.0,474.1 187.4,474.1 187.8,473.9 188.2,473.8 188.6,473.9 189.8,474.2 191.1,474.3 192.3,474.2 193.5,474.2 194.7,474.0 195.9,474.1 197.1,474.2 198.4,473.8 199.6,473.6 200.8,473.5 202.0,473.4 203.2,473.7 204.4,473.6 205.7,473.6 206.9,473.8 208.1,473.9 209.3,474.2 210.5,474.1 211.8,474.2 213.0,474.2 214.2,474.2 215.4,474.1 216.6,474.3 217.8,474.3 219.1,474.4 220.3,474.4 221.5,474.4 222.7,474.3 223.9,474.3 225.1,473.9 226.4,473.8 227.6,473.8 228.8,473.8 230.0,474.0 231.2,474.0 232.4,474.1 233.7,474.3 234.9,474.0 236.1,474.2 237.3,474.0 238.5,474.0 239.7,474.0 241.0,473.9 242.2,473.9 243.4,474.3 244.6,474.1 245.8,474.3 247.0,474.4 248.3,474.4 249.5,474.6 250.7,474.7 251.9,474.5 253.1,474.5 254.3,474.6 255.6,474.1 256.8,474.1 258.0,474.0 259.2,473.9 260.4,474.0 261.6,474.3 262.9,474.4 264.1,474.8 265.3,474.6 266.5,474.6 267.7,474.7 268.9,474.7 270.2,474.4 271.4,474.2 272.6,473.9" fill="none" stroke="#0c0c0c" stroke-width="1.7" stroke-linejoin="round"/>
<polyline points="45.8,475.0 47.1,475.0 48.3,475.0 49.5,475.0 50.7,475.0 51.9,475.0 53.2,475.0 54.4,475.0 55.6,475.0 56.8,475.0 58.0,475.0 59.2,475.0 60.5,475.0 61.7,475.0 62.9,475.0 64.1,475.0 65.3,475.0 66.5,475.0 67.8,475.0 69.0,475.0 70.2,475.0 71.4,475.0 72.6,475.0 73.8,475.1 75.1,475.2 76.3,475.4 77.5,475.5 77.9,475.6 78.3,475.6 78.7,475.7 79.1,475.2 79.5,474.2 79.9,473.5 80.3,472.8 80.7,472.3 81.1,471.9 81.5,471.5 82.0,471.1 82.4,470.8 82.8,470.5 83.2,470.3 83.6,470.1 84.0,469.9 84.4,469.7 84.8,469.6 85.2,469.5 85.6,469.4 86.0,469.3 86.4,469.2 86.8,469.1 87.2,469.0 87.6,469.0 88.0,468.9 89.3,468.8 90.5,468.7 91.7,468.6 92.9,468.6 94.1,468.5 95.3,468.5 96.6,468.5 97.8,468.5 99.0,468.5 100.2,468.5 101.4,468.4 102.6,468.4 103.9,468.4 105.1,468.4 106.3,468.4 107.5,468.4 108.7,468.4 109.9,468.4 111.2,468.4 112.4,468.4 113.6,468.4 114.8,468.4 116.0,468.4 117.2,468.4 118.5,468.4 119.7,468.4 120.9,468.4 122.1,468.4 123.3,468.3 124.5,468.3 125.8,468.3 127.0,468.3 128.2,468.3 129.4,468.3 130.6,468.3 131.8,468.3 133.1,468.3 134.3,468.3 135.5,468.3 136.7,468.3 137.9,468.3 139.1,468.3 140.4,468.3 141.6,468.3 142.8,468.3 144.0,468.3 145.2,468.2 146.4,468.2 147.7,468.2 148.9,468.2 150.1,468.2 151.3,468.2 152.5,468.2 153.7,468.2 155.0,468.2 156.2,468.2 157.4,468.2 158.6,468.2 159.8,468.2 161.0,468.2 162.3,468.2 163.5,468.2 164.7,468.2 165.9,468.2 167.1,468.1 168.3,468.1 169.6,468.1 170.8,468.1 172.0,468.1 173.2,468.1 173.6,468.1 174.0,468.1 174.4,468.1 174.8,468.1 175.2,468.1 175.7,468.8 176.1,469.6 176.5,470.2 176.9,470.7 177.3,471.1 177.7,471.5 178.1,471.8 178.5,472.1 178.9,472.3 179.3,472.5 179.7,472.6 180.1,472.8 180.5,472.9 180.9,473.0 181.3,473.1 181.7,473.1 182.1,473.2 182.5,473.2 183.0,473.3 183.4,473.3 183.8,473.3 184.2,473.4 184.6,473.4 185.0,473.4 185.4,473.4 185.8,473.4 186.2,473.4 186.6,473.4 187.0,473.5 187.4,473.5 187.8,473.5 188.2,473.5 188.6,473.5 189.8,473.5 191.1,473.5 192.3,473.5 193.5,473.5 194.7,473.5 195.9,473.5 197.1,473.5 198.4,473.5 199.6,473.5 200.8,473.6 202.0,473.6 203.2,473.6 204.4,473.6 205.7,473.6 206.9,473.6 208.1,473.6 209.3,473.6 210.5,473.6 211.8,473.6 213.0,473.6 214.2,473.6 215.4,473.6 216.6,473.6 217.8,473.6 219.1,473.6 220.3,473.6 221.5,473.7 222.7,473.7 223.9,473.7 225.1,473.7 226.4,473.7 227.6,473.7 228.8,473.7 230.0,473.7 231.2,473.7 232.4,473.7 233.7,473.7 234.9,473.7 236.1,473.7 237.3,473.7 238.5,473.7 239.7,473.7 241.0,473.7 242.2,473.8 243.4,473.8 244.6,473.8 245.8,473.8 247.0,473.8 248.3,473.8 249.5,473.8 250.7,473.8 251.9,473.8 253.1,473.8 254.3,473.8 255.6,473.8 256.8,473.8 258.0,473.8 259.2,473.8 260.4,473.8 261.6,473.8 262.9,473.9 264.1,473.9 265.3,473.9 266.5,473.9 267.7,473.9 268.9,473.9 270.2,473.9 271.4,473.9 272.6,473.9" fill="none" stroke="#6a6a6a" stroke-width="1.2" stroke-linejoin="round"/>
<text x="190.5" y="415.8" font-size="12">k<tspan font-size="8.5" dy="3">a</tspan><tspan dy="-3"> = 8.18 ± 0.17 x 10</tspan><tspan font-size="8.5" dy="-4">3</tspan><tspan dy="4"> M</tspan><tspan font-size="8.5" dy="-4">-1</tspan><tspan dy="4"> s</tspan><tspan font-size="8.5" dy="-4">-1</tspan></text>
<text x="190.5" y="429.7" font-size="12">k<tspan font-size="8.5" dy="3">d</tspan><tspan dy="-3"> = 0.565 ± 0.011 s</tspan><tspan font-size="8.5" dy="-4">-1</tspan></text>
<text x="190.5" y="444.7" font-size="12">K<tspan font-size="8.5" dy="3">D</tspan><tspan dy="-3"> = 69.1 ± 2.8 μM</tspan></text>
<line x1="399.3" y1="371" x2="399.3" y2="485.4" stroke="#222" stroke-width="1.1"/>
<line x1="398.8" y1="484.9" x2="627" y2="484.9" stroke="#222" stroke-width="1.1"/>
<line x1="395.3" y1="484.9" x2="399.3" y2="484.9" stroke="#222" stroke-width="1"/>
<text x="392.8" y="488.6" font-size="10.5" text-anchor="end">0</text>
<line x1="395.3" y1="465.9" x2="399.3" y2="465.9" stroke="#222" stroke-width="1"/>
<text x="392.8" y="469.6" font-size="10.5" text-anchor="end">20</text>
<line x1="395.3" y1="446.9" x2="399.3" y2="446.9" stroke="#222" stroke-width="1"/>
<text x="392.8" y="450.6" font-size="10.5" text-anchor="end">40</text>
<line x1="395.3" y1="427.8" x2="399.3" y2="427.8" stroke="#222" stroke-width="1"/>
<text x="392.8" y="431.5" font-size="10.5" text-anchor="end">60</text>
<line x1="395.3" y1="408.8" x2="399.3" y2="408.8" stroke="#222" stroke-width="1"/>
<text x="392.8" y="412.5" font-size="10.5" text-anchor="end">80</text>
<line x1="395.3" y1="389.8" x2="399.3" y2="389.8" stroke="#222" stroke-width="1"/>
<text x="392.8" y="393.5" font-size="10.5" text-anchor="end">100</text>
<line x1="395.3" y1="370.8" x2="399.3" y2="370.8" stroke="#222" stroke-width="1"/>
<text x="392.8" y="374.5" font-size="10.5" text-anchor="end">120</text>
<line x1="399.3" y1="484.9" x2="399.3" y2="489" stroke="#222" stroke-width="1"/>
<text x="399.3" y="500.6" font-size="10.5" text-anchor="middle">0</text>
<line x1="424.7" y1="484.9" x2="424.7" y2="489" stroke="#222" stroke-width="1"/>
<line x1="450.0" y1="484.9" x2="450.0" y2="489" stroke="#222" stroke-width="1"/>
<text x="450.0" y="500.6" font-size="10.5" text-anchor="middle">50</text>
<line x1="475.4" y1="484.9" x2="475.4" y2="489" stroke="#222" stroke-width="1"/>
<line x1="500.7" y1="484.9" x2="500.7" y2="489" stroke="#222" stroke-width="1"/>
<text x="500.7" y="500.6" font-size="10.5" text-anchor="middle">100</text>
<line x1="526.0" y1="484.9" x2="526.0" y2="489" stroke="#222" stroke-width="1"/>
<line x1="551.4" y1="484.9" x2="551.4" y2="489" stroke="#222" stroke-width="1"/>
<text x="551.4" y="500.6" font-size="10.5" text-anchor="middle">150</text>
<line x1="576.8" y1="484.9" x2="576.8" y2="489" stroke="#222" stroke-width="1"/>
<line x1="602.1" y1="484.9" x2="602.1" y2="489" stroke="#222" stroke-width="1"/>
<text x="602.1" y="500.6" font-size="10.5" text-anchor="middle">200</text>
<line x1="627.5" y1="484.9" x2="627.5" y2="489" stroke="#222" stroke-width="1"/>
<text x="514" y="518.2" font-size="12" text-anchor="middle">RecQL4-N54 (μM)</text>
<text x="0" y="0" font-size="12.2" text-anchor="middle" transform="translate(367.3,428) rotate(-90)">Response (RU)</text>
<polyline points="399.3,484.9 400.3,483.0 401.3,481.2 402.3,479.4 403.4,477.6 404.4,475.9 405.4,474.2 406.4,472.6 407.4,471.1 408.4,469.5 409.4,468.0 410.5,466.6 411.5,465.2 412.5,463.8 413.5,462.4 414.5,461.1 415.5,459.8 416.5,458.5 417.6,457.3 418.6,456.1 419.6,454.9 420.6,453.8 421.6,452.6 422.6,451.5 423.6,450.5 424.7,449.4 425.7,448.4 426.7,447.4 427.7,446.4 428.7,445.4 429.7,444.4 430.7,443.5 431.7,442.6 432.8,441.7 433.8,440.8 434.8,439.9 435.8,439.1 436.8,438.3 437.8,437.4 438.8,436.6 439.9,435.9 440.9,435.1 441.9,434.3 442.9,433.6 443.9,432.8 444.9,432.1 445.9,431.4 447.0,430.7 448.0,430.0 449.0,429.4 450.0,428.7 451.0,428.1 452.0,427.4 453.0,426.8 454.1,426.2 455.1,425.6 456.1,425.0 457.1,424.4 458.1,423.8 459.1,423.2 460.1,422.7 461.2,422.1 462.2,421.6 463.2,421.0 464.2,420.5 465.2,420.0 466.2,419.5 467.2,419.0 468.3,418.5 469.3,418.0 470.3,417.5 471.3,417.0 472.3,416.5 473.3,416.1 474.3,415.6 475.4,415.2 476.4,414.7 477.4,414.3 478.4,413.8 479.4,413.4 480.4,413.0 481.4,412.6 482.4,412.2 483.5,411.8 484.5,411.3 485.5,411.0 486.5,410.6 487.5,410.2 488.5,409.8 489.5,409.4 490.6,409.1 491.6,408.7 492.6,408.3 493.6,408.0 494.6,407.6 495.6,407.3 496.6,406.9 497.7,406.6 498.7,406.2 499.7,405.9 500.7,405.6 501.7,405.3 502.7,404.9 503.7,404.6 504.8,404.3 505.8,404.0 506.8,403.7 507.8,403.4 508.8,403.1 509.8,402.8 510.8,402.5 511.9,402.2 512.9,401.9 513.9,401.6 514.9,401.4 515.9,401.1 516.9,400.8 517.9,400.5 519.0,400.3 520.0,400.0 521.0,399.7 522.0,399.5 523.0,399.2 524.0,399.0 525.0,398.7 526.0,398.5 527.1,398.2 528.1,398.0 529.1,397.7 530.1,397.5 531.1,397.3 532.1,397.0 533.1,396.8 534.2,396.6 535.2,396.3 536.2,396.1 537.2,395.9 538.2,395.7 539.2,395.5 540.2,395.2 541.3,395.0 542.3,394.8 543.3,394.6 544.3,394.4 545.3,394.2 546.3,394.0 547.3,393.8 548.4,393.6 549.4,393.4 550.4,393.2 551.4,393.0 552.4,392.8 553.4,392.6 554.4,392.4 555.5,392.2 556.5,392.0 557.5,391.8 558.5,391.7 559.5,391.5 560.5,391.3 561.5,391.1 562.6,390.9 563.6,390.8 564.6,390.6 565.6,390.4 566.6,390.2 567.6,390.1 568.6,389.9 569.7,389.7 570.7,389.6 571.7,389.4 572.7,389.2 573.7,389.1 574.7,388.9 575.7,388.8 576.8,388.6 577.8,388.5 578.8,388.3 579.8,388.1 580.8,388.0 581.8,387.8 582.8,387.7 583.8,387.5 584.9,387.4 585.9,387.2 586.9,387.1 587.9,387.0 588.9,386.8 589.9,386.7 590.9,386.5 592.0,386.4 593.0,386.2 594.0,386.1 595.0,386.0 596.0,385.8 597.0,385.7 598.0,385.6 599.1,385.4 600.1,385.3 601.1,385.2 602.1,385.0" fill="none" stroke="#333" stroke-width="1"/>
<circle cx="403.3" cy="479.2" r="2.4" fill="#fff" fill-opacity="0.5" stroke="#222" stroke-width="1"/>
<circle cx="403.3" cy="479.7" r="2.4" fill="#fff" fill-opacity="0.5" stroke="#222" stroke-width="1"/>
<circle cx="406.5" cy="474.0" r="2.4" fill="#fff" fill-opacity="0.5" stroke="#222" stroke-width="1"/>
<circle cx="406.5" cy="474.4" r="2.4" fill="#fff" fill-opacity="0.5" stroke="#222" stroke-width="1"/>
<circle cx="412.8" cy="464.0" r="2.4" fill="#fff" fill-opacity="0.5" stroke="#222" stroke-width="1"/>
<circle cx="412.8" cy="464.5" r="2.4" fill="#fff" fill-opacity="0.5" stroke="#222" stroke-width="1"/>
<circle cx="425.3" cy="448.8" r="2.4" fill="#fff" fill-opacity="0.5" stroke="#222" stroke-width="1"/>
<circle cx="425.3" cy="449.7" r="2.4" fill="#fff" fill-opacity="0.5" stroke="#222" stroke-width="1"/>
<circle cx="450.0" cy="428.8" r="2.4" fill="#fff" fill-opacity="0.5" stroke="#222" stroke-width="1"/>
<circle cx="450.0" cy="430.7" r="2.4" fill="#fff" fill-opacity="0.5" stroke="#222" stroke-width="1"/>
<circle cx="500.7" cy="406.6" r="2.4" fill="#fff" fill-opacity="0.5" stroke="#222" stroke-width="1"/>
<circle cx="500.7" cy="409.0" r="2.4" fill="#fff" fill-opacity="0.5" stroke="#222" stroke-width="1"/>
<circle cx="602.1" cy="384.1" r="2.4" fill="#fff" fill-opacity="0.5" stroke="#222" stroke-width="1"/>
<circle cx="602.1" cy="386.0" r="2.4" fill="#fff" fill-opacity="0.5" stroke="#222" stroke-width="1"/>
<text x="544.5" y="448.6" font-size="12">K<tspan font-size="8.5" dy="3">D</tspan><tspan dy="-3"> = 69.9 ± 2.2 μM</tspan></text>
<rect x="681.5" y="368" width="17" height="141" fill="#eeeeee" filter="url(#b1)"/>
<rect x="698.5" y="368" width="11" height="137" fill="#efefef" filter="url(#b1)"/>
<rect x="683" y="401.0" width="14.5" height="2" rx="2" fill="#d0d0d0" filter="url(#b08)"/>
<rect x="683" y="407.25" width="14.5" height="1.5" rx="2" fill="#dedede" filter="url(#b08)"/>
<rect x="683" y="423.2" width="14.5" height="2.2" rx="2" fill="#9a9a9a" filter="url(#b08)"/>
<rect x="683" y="427.5" width="14.5" height="2.2" rx="2" fill="#a8a8a8" filter="url(#b08)"/>
<rect x="683" y="431.79999999999995" width="14.5" height="2.2" rx="2" fill="#a0a0a0" filter="url(#b08)"/>
<rect x="683" y="434.9" width="14.5" height="2.2" rx="2" fill="#9a9a9a" filter="url(#b08)"/>
<rect x="683" y="440.1" width="14.5" height="1.8" rx="2" fill="#c4c4c4" filter="url(#b08)"/>
<rect x="683" y="444.25" width="14.5" height="1.5" rx="2" fill="#cacaca" filter="url(#b08)"/>
<rect x="683" y="448.2" width="14.5" height="2.2" rx="2" fill="#a8a8a8" filter="url(#b08)"/>
<rect x="683" y="452.20000000000005" width="14.5" height="2.8" rx="2" fill="#8a8a8a" filter="url(#b08)"/>
<rect x="683" y="456.79999999999995" width="14.5" height="2.2" rx="2" fill="#a8a8a8" filter="url(#b08)"/>
<rect x="683" y="464.1" width="14.5" height="1.8" rx="2" fill="#cccccc" filter="url(#b08)"/>
<rect x="683" y="468.5" width="14.5" height="1.8" rx="2" fill="#d0d0d0" filter="url(#b08)"/>
<rect x="683" y="473.25" width="14.5" height="1.5" rx="2" fill="#d6d6d6" filter="url(#b08)"/>
<rect x="683" y="477.7" width="14.5" height="2" rx="2" fill="#c4c4c4" filter="url(#b08)"/>
<rect x="683" y="486.3" width="14.5" height="2" rx="2" fill="#c6c6c6" filter="url(#b08)"/>
<rect x="683" y="491.25" width="14.5" height="1.5" rx="2" fill="#dadada" filter="url(#b08)"/>
<rect x="683" y="497.25" width="14.5" height="1.5" rx="2" fill="#e0e0e0" filter="url(#b08)"/>
<rect x="683" y="502.25" width="14.5" height="1.5" rx="2" fill="#e2e2e2" filter="url(#b08)"/>
<rect x="682.5" y="412.3" width="17" height="8" rx="3.5" fill="#2c2c2c" filter="url(#b08)"/>
<rect x="699" y="371.8" width="10" height="1.8" rx="1.5" fill="#aaa" filter="url(#b08)"/>
<rect x="699" y="375.25" width="10" height="1.5" rx="1.5" fill="#bbb" filter="url(#b08)"/>
<rect x="699" y="378.3" width="10" height="1.8" rx="1.5" fill="#999" filter="url(#b08)"/>
<rect x="699" y="382.6" width="10" height="1.8" rx="1.5" fill="#9a9a9a" filter="url(#b08)"/>
<rect x="699" y="386.1" width="10" height="1.8" rx="1.5" fill="#999" filter="url(#b08)"/>
<rect x="699" y="390.5" width="10" height="1.8" rx="1.5" fill="#aaa" filter="url(#b08)"/>
<rect x="699" y="394.7" width="10" height="2" rx="1.5" fill="#8a8a8a" filter="url(#b08)"/>
<rect x="699" y="398.9" width="10" height="2.2" rx="1.5" fill="#888" filter="url(#b08)"/>
<rect x="699" y="404.1" width="10" height="1.8" rx="1.5" fill="#999" filter="url(#b08)"/>
<rect x="699" y="411.20000000000005" width="10" height="1.8" rx="1.5" fill="#999" filter="url(#b08)"/>
<rect x="699" y="416.4" width="10" height="1.2" rx="1.5" fill="#ccc" filter="url(#b08)"/>
<rect x="699" y="421.29999999999995" width="10" height="3.2" rx="1.5" fill="#333" filter="url(#b08)"/>
<rect x="699" y="427.4" width="10" height="1.2" rx="1.5" fill="#ccc" filter="url(#b08)"/>
<rect x="699" y="434.0" width="10" height="2" rx="1.5" fill="#777" filter="url(#b08)"/>
<rect x="699" y="441.4" width="10" height="1.2" rx="1.5" fill="#ccc" filter="url(#b08)"/>
<rect x="699" y="448.3" width="10" height="2" rx="1.5" fill="#888" filter="url(#b08)"/>
<rect x="699" y="456.45" width="10" height="1.5" rx="1.5" fill="#bbb" filter="url(#b08)"/>
<rect x="699" y="464.0" width="10" height="2" rx="1.5" fill="#888" filter="url(#b08)"/>
<rect x="699" y="470.0" width="10" height="3" rx="1.5" fill="#2a2a2a" filter="url(#b08)"/>
<rect x="699" y="477.25" width="10" height="1.5" rx="1.5" fill="#bbb" filter="url(#b08)"/>
<rect x="699" y="484.0" width="10" height="2.2" rx="1.5" fill="#555" filter="url(#b08)"/>
<rect x="699" y="492.95" width="10" height="1.5" rx="1.5" fill="#c4c4c4" filter="url(#b08)"/>
<rect x="699" y="501.1" width="10" height="2.4" rx="1.5" fill="#444" filter="url(#b08)"/>
<text x="710.9" y="379.5" font-size="8.4">kDa</text>
<text x="725" y="395.2" font-size="8.4">100</text>
<text x="710.9" y="403.4" font-size="8.4">80</text>
<text x="725" y="408.9" font-size="8.4">70</text>
<text x="710.9" y="416.1" font-size="8.4">60</text>
<text x="710.9" y="426" font-size="8.4">50</text>
<text x="710.9" y="438" font-size="8.4">40</text>
<text x="710.9" y="453.3" font-size="8.4">30</text>
<text x="725" y="468.2" font-size="8.4">25</text>
<text x="710.9" y="474.3" font-size="8.4">20</text>
<text x="710.9" y="488.4" font-size="8.4">15</text>
<text x="710.9" y="505.9" font-size="8.4">10</text>
<line x1="710.9" y1="392.2" x2="722.7" y2="392.2" stroke="#555" stroke-width="0.9"/>
<line x1="710.9" y1="405.9" x2="722.7" y2="405.9" stroke="#555" stroke-width="0.9"/>
<line x1="710.9" y1="465.2" x2="722.7" y2="465.2" stroke="#555" stroke-width="0.9"/>
<text x="0" y="0" font-size="14.8" transform="translate(687.2,367.8) rotate(-55)" >GST-TopBP1</text>
<text x="0" y="0" font-size="14.8" transform="translate(707.9,369.3) rotate(-55)" >(aa1233-1522)</text>
</svg></body></html>
